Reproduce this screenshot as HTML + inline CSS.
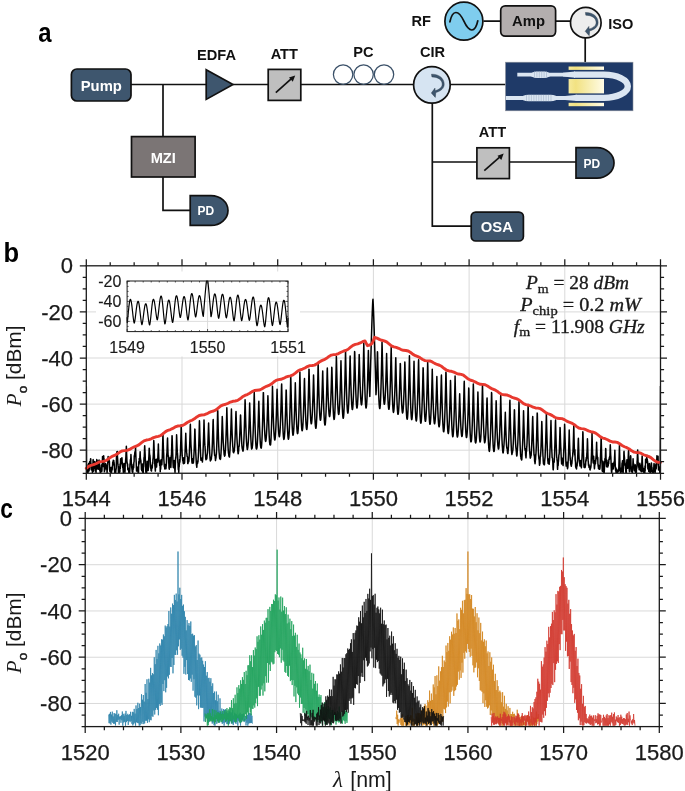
<!DOCTYPE html>
<html lang="en"><head><meta charset="utf-8"><title>Figure</title>
<style>html,body{margin:0;padding:0;background:#fff}svg{display:block}</style></head>
<body>
<svg width="685" height="791" viewBox="0 0 685 791">
<rect width="685" height="791" fill="#fff"/>
<text x="38.2" y="42.0" style="font-family:'Liberation Sans',sans-serif;font-weight:bold;font-size:27.2px" textLength="13.3" lengthAdjust="spacingAndGlyphs">a</text>
<text x="3.6" y="262" style="font-family:'Liberation Sans',sans-serif;font-weight:bold;font-size:28px" textLength="15.6" lengthAdjust="spacingAndGlyphs">b</text>
<text x="0.2" y="517.6" style="font-family:'Liberation Sans',sans-serif;font-weight:bold;font-size:28px" textLength="12.6" lengthAdjust="spacingAndGlyphs">c</text>
<g id="diagram" style="font-family:'Liberation Sans',sans-serif;font-weight:bold;font-size:14.8px">
<!-- wires -->
<path d="M131 84.5H206M233 84.5H268M301 84.5H413.5M450.3 84.5H505.5M163 84.5V136.6M163 177V210.3H190.2M432.3 103V226.2H471.2M432.3 162H476.8M509.5 162H576M483.5 21.1H500.7M555.6 21.1H570.5M585.2 38V62.2" fill="none" stroke="#111" stroke-width="1.7"/>
<!-- Pump -->
<rect x="71.4" y="69" width="59.6" height="32" rx="5.5" fill="#3e566e" stroke="#111" stroke-width="1.7"/>
<text x="101.3" y="90.5" text-anchor="middle" fill="#fff">Pump</text>
<!-- EDFA -->
<path d="M206.2 69.8L233 84.6L206.2 99.4Z" fill="#3e566e" stroke="#111" stroke-width="1.7" stroke-linejoin="miter"/>
<text x="216.5" y="59.8" text-anchor="middle" fill="#111" style="font-size:14.6px">EDFA</text>
<!-- ATT 1 -->
<rect x="268.2" y="69.4" width="32.6" height="31" fill="#bfbfbf" stroke="#111" stroke-width="1.7"/>
<path d="M275.8 92.6L292 78.2" stroke="#111" stroke-width="1.7" fill="none"/><path d="M295.2 75.4L289 77.6L292.8 81.7Z" fill="#111"/>
<text x="284.3" y="59.3" text-anchor="middle" fill="#111" style="font-size:14.6px">ATT</text>
<!-- PC -->
<g fill="none" stroke="#3a5068" stroke-width="1.25"><circle cx="343.1" cy="74.6" r="9.7"/><circle cx="363.6" cy="74.6" r="9.7"/><circle cx="384" cy="74.6" r="9.7"/></g>
<text x="363.4" y="57.3" text-anchor="middle" fill="#111" style="font-size:14.6px">PC</text>
<!-- CIR -->
<circle cx="431.9" cy="84.9" r="18.3" fill="#d6e4f2" stroke="#111" stroke-width="1.7"/>
<path id="sw1" transform="translate(431.9 84.9)" d="M-0.4 -10.7C7 -10.9 12.3 -6.6 12.3 -0.8C12.3 3.8 8.6 6.4 3.9 7.6L3.4 12.5L-0.6 8.1L3.1 3.2L3.2 5.8C7 4.8 10.3 2.8 10.3 -0.8C10.3 -5 6 -8 0 -8Z" fill="#3e566e" stroke="#22303f" stroke-width="0.4"/>
<text x="432.6" y="57.3" text-anchor="middle" fill="#111" style="font-size:14.6px">CIR</text>
<!-- MZI -->
<rect x="131.5" y="136.6" width="63.6" height="40.4" fill="#7b7575" stroke="#111" stroke-width="1.7"/>
<text x="163.2" y="162.8" text-anchor="middle" fill="#fff" style="font-size:14.6px">MZI</text>
<!-- PD 1 -->
<path d="M190.2 195.6H211A17 14.9 0 0 1 211 225.4H190.2Z" fill="#3e566e" stroke="#111" stroke-width="1.7"/>
<text x="205.8" y="215" text-anchor="middle" fill="#fff" style="font-size:12px">PD</text>
<!-- RF -->
<circle cx="463.9" cy="21.2" r="19" fill="#7fcdee" stroke="#111" stroke-width="1.7"/>
<path d="M449.9 21.8C452.5 9.5 458.5 9.5 463.9 21.2C469.3 33 475.2 33 477.8 20.8" fill="none" stroke="#111" stroke-width="1.7" stroke-linecap="round"/>
<text x="421.2" y="25.9" text-anchor="middle" fill="#111" style="font-size:14.6px">RF</text>
<!-- Amp -->
<rect x="500.7" y="5.9" width="54.9" height="30.2" rx="4.5" fill="#b3aeae" stroke="#111" stroke-width="1.7"/>
<text x="528.5" y="26.3" text-anchor="middle" fill="#111">Amp</text>
<!-- ISO -->
<circle cx="585.8" cy="22.65" r="15.3" fill="#ededed" stroke="#111" stroke-width="1.7"/>
<path transform="translate(585.8 23.2)" d="M-0.4 -10.7C7 -10.9 12.3 -6.6 12.3 -0.8C12.3 3.8 8.6 6.4 3.9 7.6L3.4 12.5L-0.6 8.1L3.1 3.2L3.2 5.8C7 4.8 10.3 2.8 10.3 -0.8C10.3 -5 6 -8 0 -8Z" fill="#3e566e" stroke="#22303f" stroke-width="0.4"/>
<text x="620.8" y="28.5" text-anchor="middle" fill="#111" style="font-size:14.6px">ISO</text>
<!-- chip -->
<defs><linearGradient id="yg" x1="0" x2="1" y1="0" y2="0"><stop offset="0" stop-color="#f6ea9c"/><stop offset="0.2" stop-color="#f2e282"/><stop offset="0.6" stop-color="#f8efb4"/><stop offset="1" stop-color="#fffbe6"/></linearGradient></defs>
<rect x="505.5" y="62.2" width="127.5" height="48.6" fill="#1f3a68" stroke="#8a8f99" stroke-width="0.6"/>
<g fill="url(#yg)"><rect x="568.6" y="66.5" width="35.4" height="3.4"/><rect x="568.6" y="79" width="35.4" height="14.4"/><rect x="568.6" y="102.8" width="35.4" height="3.4"/></g>
<g fill="none" stroke="#dbe6f2">
<path d="M574 74.6H604A23.8 11.65 0 0 1 604 97.9H575.5" stroke-width="6.4"/>
<path d="M517.3 74.7H575M505.8 98H577" stroke-width="3.8"/>
</g>
<g fill="#dbe6f2">
<path d="M563 72.8L575 71.4V77.8L563 76.6ZM565 96.1L577 94.7V101.1L565 99.9Z"/>
<path d="M528.5 74.7C531.5 73 533.5 71.4 536.5 71.4H544.5C547.5 71.4 549.5 73 552.5 74.7C549.5 76.4 547.5 78 544.5 78H536.5C533.5 78 531.5 76.4 528.5 74.7Z"/>
<path d="M518 98C522 96.6 524.5 94.7 528.5 94.7H550.5C554.5 94.7 557 96.6 561 98C557 99.4 554.5 101.3 550.5 101.3H528.5C524.5 101.3 522 99.4 518 98Z"/>
</g>
<path d="M534.5 71.6V77.8M536.9 71.6V77.8M539.3 71.6V77.8M541.7 71.6V77.8M544.1 71.6V77.8M546.5 71.6V77.8M526.5 94.9V101.1M529.0 94.9V101.1M531.4 94.9V101.1M533.9 94.9V101.1M536.3 94.9V101.1M538.8 94.9V101.1M541.2 94.9V101.1M543.6 94.9V101.1M546.1 94.9V101.1M548.5 94.9V101.1M551.0 94.9V101.1" stroke="#a9b9cf" stroke-width="0.7" fill="none"/>
<!-- ATT 2 -->
<rect x="476.9" y="147.8" width="32.5" height="30.8" fill="#bfbfbf" stroke="#111" stroke-width="1.7"/>
<path d="M484.3 170.6L500.5 156.4" stroke="#111" stroke-width="1.7" fill="none"/><path d="M503.7 153.6L497.5 155.8L501.3 159.9Z" fill="#111"/>
<text x="492.5" y="137.3" text-anchor="middle" fill="#111" style="font-size:14.6px">ATT</text>
<!-- PD 2 -->
<path d="M576 147.7H597A17 15.2 0 0 1 597 178.1H576Z" fill="#3e566e" stroke="#111" stroke-width="1.7"/>
<text x="591.8" y="167.6" text-anchor="middle" fill="#fff" style="font-size:12px">PD</text>
<!-- OSA -->
<rect x="471.2" y="212.1" width="52.2" height="28.9" rx="4.5" fill="#3e566e" stroke="#111" stroke-width="1.7"/>
<text x="496.8" y="231.7" text-anchor="middle" fill="#fff">OSA</text>
</g>

<line x1="182.00" x2="182.00" y1="265.8" y2="473.25" stroke="#d9d9d9" stroke-width="1"/>
<line x1="277.70" x2="277.70" y1="265.8" y2="473.25" stroke="#d9d9d9" stroke-width="1"/>
<line x1="373.40" x2="373.40" y1="265.8" y2="473.25" stroke="#d9d9d9" stroke-width="1"/>
<line x1="469.10" x2="469.10" y1="265.8" y2="473.25" stroke="#d9d9d9" stroke-width="1"/>
<line x1="564.80" x2="564.80" y1="265.8" y2="473.25" stroke="#d9d9d9" stroke-width="1"/>
<line x1="86.3" x2="660.5" y1="311.90" y2="311.90" stroke="#d9d9d9" stroke-width="1"/>
<line x1="86.3" x2="660.5" y1="358.00" y2="358.00" stroke="#d9d9d9" stroke-width="1"/>
<line x1="86.3" x2="660.5" y1="404.10" y2="404.10" stroke="#d9d9d9" stroke-width="1"/>
<line x1="86.3" x2="660.5" y1="450.20" y2="450.20" stroke="#d9d9d9" stroke-width="1"/>
<clipPath id="cb"><rect x="86.3" y="265.8" width="574.20" height="207.45"/></clipPath>
<g clip-path="url(#cb)"><polyline points="86.30,386.14 86.44,429.38 86.59,467.24 86.73,472.56 86.87,472.03 87.02,472.56 87.16,472.56 87.30,472.56 87.45,472.56 87.59,472.56 87.74,472.56 87.88,472.25 88.02,472.56 88.17,467.96 88.31,465.01 88.45,464.36 88.60,465.00 88.74,463.40 88.88,470.10 89.03,471.01 89.17,469.71 89.31,466.94 89.46,465.55 89.60,461.82 89.75,463.45 89.89,461.58 90.03,465.91 90.18,465.62 90.32,464.59 90.46,460.19 90.61,458.65 90.75,458.86 90.89,464.54 91.04,468.16 91.18,469.36 91.32,469.88 91.47,468.23 91.61,467.05 91.75,464.55 91.90,466.28 92.04,467.00 92.19,468.10 92.33,471.82 92.47,472.56 92.62,468.71 92.76,464.80 92.90,465.34 93.05,459.74 93.19,459.64 93.33,464.94 93.48,468.01 93.62,470.84 93.76,471.15 93.91,470.44 94.05,466.06 94.20,469.07 94.34,462.96 94.48,461.51 94.63,462.69 94.77,465.43 94.91,462.95 95.06,462.02 95.20,463.34 95.34,466.64 95.49,466.11 95.63,463.10 95.77,471.34 95.92,471.70 96.06,472.56 96.20,466.34 96.35,466.16 96.49,462.34 96.64,461.08 96.78,459.56 96.92,466.29 97.07,469.12 97.21,465.30 97.35,466.47 97.50,466.53 97.64,464.79 97.78,461.01 97.93,463.83 98.07,465.36 98.21,464.39 98.36,464.60 98.50,469.02 98.65,469.17 98.79,465.16 98.93,462.66 99.08,460.10 99.22,460.86 99.36,461.96 99.51,463.74 99.65,465.37 99.79,470.62 99.94,470.22 100.08,469.64 100.22,472.56 100.37,472.56 100.51,472.29 100.65,472.56 100.80,472.56 100.94,470.45 101.09,467.90 101.23,469.87 101.37,468.15 101.52,464.98 101.66,469.05 101.80,471.30 101.95,470.44 102.09,465.78 102.23,467.32 102.38,462.15 102.52,456.49 102.66,459.15 102.81,462.57 102.95,463.45 103.10,466.50 103.24,466.06 103.38,460.43 103.53,458.53 103.67,455.81 103.81,457.38 103.96,458.48 104.10,463.93 104.24,466.44 104.39,471.78 104.53,468.13 104.67,470.95 104.82,467.04 104.96,469.21 105.11,465.93 105.25,466.85 105.39,465.64 105.54,466.92 105.68,463.57 105.82,464.19 105.97,466.86 106.11,468.95 106.25,467.01 106.40,467.29 106.54,466.93 106.68,465.29 106.83,466.09 106.97,471.04 107.11,472.56 107.26,469.42 107.40,469.72 107.55,465.25 107.69,464.64 107.83,461.41 107.98,460.44 108.12,456.55 108.26,458.47 108.41,460.44 108.55,462.18 108.69,461.79 108.84,458.12 108.98,460.08 109.12,460.55 109.27,461.14 109.41,461.07 109.56,467.18 109.70,470.29 109.84,471.53 109.99,468.68 110.13,470.52 110.27,470.19 110.42,469.66 110.56,467.57 110.70,471.15 110.85,472.56 110.99,472.56 111.13,472.56 111.28,472.56 111.42,472.56 111.56,471.59 111.71,471.13 111.85,469.49 112.00,466.89 112.14,469.88 112.28,467.74 112.43,465.90 112.57,465.45 112.71,461.94 112.86,462.11 113.00,463.39 113.14,464.72 113.29,460.13 113.43,461.01 113.57,463.12 113.72,460.41 113.86,461.19 114.01,461.92 114.15,463.81 114.29,463.91 114.44,469.89 114.58,470.36 114.72,472.56 114.87,472.56 115.01,472.56 115.15,472.56 115.30,472.55 115.44,472.56 115.58,472.56 115.73,472.56 115.87,470.81 116.01,468.49 116.16,469.30 116.30,465.37 116.45,457.55 116.59,454.37 116.73,455.07 116.88,451.63 117.02,452.37 117.16,453.77 117.31,451.42 117.45,456.62 117.59,458.12 117.74,460.64 117.88,464.18 118.02,465.23 118.17,467.10 118.31,468.70 118.46,472.56 118.60,470.39 118.74,469.23 118.89,466.94 119.03,471.80 119.17,470.88 119.32,472.56 119.46,471.88 119.60,469.37 119.75,470.53 119.89,472.07 120.03,463.98 120.18,465.68 120.32,468.38 120.46,462.30 120.61,458.82 120.75,461.92 120.90,463.90 121.04,459.45 121.18,460.42 121.33,462.52 121.47,462.51 121.61,460.51 121.76,458.94 121.90,457.64 122.04,459.41 122.19,462.44 122.33,463.34 122.47,466.09 122.62,464.66 122.76,467.66 122.91,467.05 123.05,468.88 123.19,470.04 123.34,472.56 123.48,469.90 123.62,468.97 123.77,464.49 123.91,463.53 124.05,463.42 124.20,463.89 124.34,463.68 124.48,469.90 124.63,471.22 124.77,470.27 124.91,472.56 125.06,470.71 125.20,464.59 125.35,462.92 125.49,463.41 125.63,460.10 125.78,458.50 125.92,456.31 126.06,452.65 126.21,450.07 126.35,446.30 126.49,449.24 126.64,454.61 126.78,457.19 126.92,461.06 127.07,462.03 127.21,463.07 127.36,464.03 127.50,466.12 127.64,464.08 127.79,469.85 127.93,468.95 128.07,467.93 128.22,468.10 128.36,468.42 128.50,468.28 128.65,469.98 128.79,472.56 128.93,472.56 129.08,472.56 129.22,472.56 129.36,472.56 129.51,472.56 129.65,472.56 129.80,469.62 129.94,464.75 130.08,463.47 130.23,463.08 130.37,459.70 130.51,462.16 130.66,459.09 130.80,458.18 130.94,454.59 131.09,457.12 131.23,460.15 131.37,464.11 131.52,465.10 131.66,467.40 131.81,467.83 131.95,469.30 132.09,469.90 132.24,471.67 132.38,470.50 132.52,472.56 132.67,470.68 132.81,472.23 132.95,466.60 133.10,469.79 133.24,464.35 133.38,465.60 133.53,467.84 133.67,467.79 133.82,463.28 133.96,461.96 134.10,461.81 134.25,456.00 134.39,455.45 134.53,456.81 134.68,453.82 134.82,452.75 134.96,451.68 135.11,454.27 135.25,452.99 135.39,451.59 135.54,446.32 135.68,451.01 135.82,454.28 135.97,458.60 136.11,460.77 136.26,463.38 136.40,467.82 136.54,471.10 136.69,467.81 136.83,467.76 136.97,470.20 137.12,468.27 137.26,468.18 137.40,467.15 137.55,469.18 137.69,467.86 137.83,466.90 137.98,471.43 138.12,472.56 138.27,471.68 138.41,469.28 138.55,472.56 138.70,462.58 138.84,461.42 138.98,463.48 139.13,464.06 139.27,458.40 139.41,462.32 139.56,462.03 139.70,459.24 139.84,457.76 139.99,454.54 140.13,451.86 140.27,455.74 140.42,458.55 140.56,458.92 140.71,460.28 140.85,460.27 140.99,463.23 141.14,463.82 141.28,465.55 141.42,469.22 141.57,469.85 141.71,469.95 141.85,470.76 142.00,469.34 142.14,464.37 142.28,465.67 142.43,463.97 142.57,465.74 142.72,471.44 142.86,472.56 143.00,470.75 143.15,472.25 143.29,472.56 143.43,465.07 143.58,466.95 143.72,464.51 143.86,461.51 144.01,457.50 144.15,459.46 144.29,456.14 144.44,452.43 144.58,447.15 144.72,445.72 144.87,449.33 145.01,451.68 145.16,454.81 145.30,459.40 145.44,460.96 145.59,466.30 145.73,470.08 145.87,472.56 146.02,472.56 146.16,472.56 146.30,472.56 146.45,472.56 146.59,472.56 146.73,472.46 146.88,468.07 147.02,464.49 147.17,461.15 147.31,464.69 147.45,463.14 147.60,464.96 147.74,466.56 147.88,469.41 148.03,468.57 148.17,470.45 148.31,468.03 148.46,466.08 148.60,461.99 148.74,458.35 148.89,456.30 149.03,453.06 149.17,448.28 149.32,448.48 149.46,452.52 149.61,454.09 149.75,455.20 149.89,455.20 150.04,456.83 150.18,458.89 150.32,464.96 150.47,467.00 150.61,468.07 150.75,465.63 150.90,467.51 151.04,470.47 151.18,469.09 151.33,470.07 151.47,471.11 151.62,469.02 151.76,467.48 151.90,467.63 152.05,464.82 152.19,468.04 152.33,467.54 152.48,463.03 152.62,462.19 152.76,463.73 152.91,459.60 153.05,458.59 153.19,457.30 153.34,454.39 153.48,450.37 153.62,445.79 153.77,440.48 153.91,442.72 154.06,447.13 154.20,450.84 154.34,454.27 154.49,458.00 154.63,460.33 154.77,463.64 154.92,465.84 155.06,467.12 155.20,469.52 155.35,471.12 155.49,468.01 155.63,465.50 155.78,464.35 155.92,459.46 156.07,460.31 156.21,463.12 156.35,466.56 156.50,467.10 156.64,466.16 156.78,462.29 156.93,462.64 157.07,459.38 157.21,458.66 157.36,460.14 157.50,462.18 157.64,460.37 157.79,458.56 157.93,455.05 158.07,452.41 158.22,448.69 158.36,444.10 158.51,448.73 158.65,453.52 158.79,457.30 158.94,459.25 159.08,461.27 159.22,461.40 159.37,463.30 159.51,460.67 159.65,465.45 159.80,462.11 159.94,465.14 160.08,466.67 160.23,471.81 160.37,467.66 160.52,468.11 160.66,469.11 160.80,465.93 160.95,460.43 161.09,459.64 161.23,463.08 161.38,460.65 161.52,461.87 161.66,464.33 161.81,464.79 161.95,462.55 162.09,459.97 162.24,457.52 162.38,453.27 162.53,448.79 162.67,443.03 162.81,437.95 162.96,433.31 163.10,438.64 163.24,443.45 163.39,447.79 163.53,451.58 163.67,453.53 163.82,458.75 163.96,460.93 164.10,462.99 164.25,465.24 164.39,466.59 164.53,466.25 164.68,467.31 164.82,468.90 164.97,466.68 165.11,466.37 165.25,464.67 165.40,466.32 165.54,464.56 165.68,465.93 165.83,467.45 165.97,468.64 166.11,466.56 166.26,465.23 166.40,463.74 166.54,458.46 166.69,455.02 166.83,453.78 166.98,452.34 167.12,447.92 167.26,444.60 167.41,439.82 167.55,438.00 167.69,443.43 167.84,448.35 167.98,452.19 168.12,455.96 168.27,456.93 168.41,455.83 168.55,458.68 168.70,463.33 168.84,463.26 168.98,467.43 169.13,468.53 169.27,469.18 169.42,465.11 169.56,459.39 169.70,460.17 169.85,462.92 169.99,459.41 170.13,457.45 170.28,466.06 170.42,465.36 170.56,466.57 170.71,466.94 170.85,467.41 170.99,464.35 171.14,461.27 171.28,456.21 171.43,455.22 171.57,451.46 171.71,446.67 171.86,441.46 172.00,435.66 172.14,435.91 172.29,441.00 172.43,445.35 172.57,449.65 172.72,453.88 172.86,458.52 173.00,462.74 173.15,465.04 173.29,467.48 173.43,467.07 173.58,466.94 173.72,466.13 173.87,467.83 174.01,462.55 174.15,463.79 174.30,460.56 174.44,462.72 174.58,464.55 174.73,468.79 174.87,470.57 175.01,472.36 175.16,469.27 175.30,465.16 175.44,462.34 175.59,458.77 175.73,457.03 175.88,458.13 176.02,454.82 176.16,450.72 176.31,446.13 176.45,440.78 176.59,434.69 176.74,437.41 176.88,442.22 177.02,446.37 177.17,449.39 177.31,452.15 177.45,453.10 177.60,455.20 177.74,458.54 177.88,462.52 178.03,463.13 178.17,467.25 178.32,469.64 178.46,467.65 178.60,468.55 178.75,472.56 178.89,469.17 179.03,466.37 179.18,466.92 179.32,464.91 179.46,464.11 179.61,459.53 179.75,461.47 179.89,462.13 180.04,460.06 180.18,455.64 180.33,455.75 180.47,451.68 180.61,447.04 180.76,442.73 180.90,437.86 181.04,431.96 181.19,425.09 181.33,430.36 181.47,435.72 181.62,440.58 181.76,444.87 181.90,448.58 182.05,451.83 182.19,455.67 182.33,456.94 182.48,457.38 182.62,458.84 182.77,460.98 182.91,458.47 183.05,459.66 183.20,463.18 183.34,463.31 183.48,462.07 183.63,463.78 183.77,460.36 183.91,457.70 184.06,461.28 184.20,461.38 184.34,459.65 184.49,463.16 184.63,462.37 184.78,458.68 184.92,456.00 185.06,452.82 185.21,448.55 185.35,444.65 185.49,441.26 185.64,437.01 185.78,433.32 185.92,438.08 186.07,442.17 186.21,445.74 186.35,448.27 186.50,450.00 186.64,452.15 186.78,453.19 186.93,454.39 187.07,456.50 187.22,456.43 187.36,456.35 187.50,457.16 187.65,462.01 187.79,463.60 187.93,463.57 188.08,462.89 188.22,462.21 188.36,458.37 188.51,458.53 188.65,460.08 188.79,461.65 188.94,460.42 189.08,458.60 189.23,455.37 189.37,452.77 189.51,449.05 189.66,445.56 189.80,441.47 189.94,436.89 190.09,431.66 190.23,426.10 190.37,424.18 190.52,429.94 190.66,435.14 190.80,439.96 190.95,444.22 191.09,446.67 191.24,448.91 191.38,452.20 191.52,455.16 191.67,457.94 191.81,460.34 191.95,462.39 192.10,462.68 192.24,463.27 192.38,460.49 192.53,461.76 192.67,461.32 192.81,458.75 192.96,460.21 193.10,462.14 193.24,462.83 193.39,462.94 193.53,461.49 193.68,459.55 193.82,456.43 193.96,454.20 194.11,451.16 194.25,447.88 194.39,443.69 194.54,439.31 194.68,434.40 194.82,429.05 194.97,429.32 195.11,434.56 195.25,439.32 195.40,443.63 195.54,447.37 195.69,451.09 195.83,454.10 195.97,456.53 196.12,459.13 196.26,462.43 196.40,464.44 196.55,465.40 196.69,466.53 196.83,467.32 196.98,463.95 197.12,464.31 197.26,461.76 197.41,462.43 197.55,461.39 197.69,463.12 197.84,460.48 197.98,462.08 198.13,458.69 198.27,457.07 198.41,454.12 198.56,451.53 198.70,447.25 198.84,443.08 198.99,438.10 199.13,432.83 199.27,427.11 199.42,420.85 199.56,423.60 199.70,429.26 199.85,434.35 199.99,438.81 200.14,441.82 200.28,446.51 200.42,450.05 200.57,453.60 200.71,457.04 200.85,459.67 201.00,460.21 201.14,459.41 201.28,459.28 201.43,457.90 201.57,458.40 201.71,458.72 201.86,460.45 202.00,458.63 202.14,459.40 202.29,461.35 202.43,462.01 202.58,459.65 202.72,458.54 202.86,456.00 203.01,452.90 203.15,448.94 203.29,445.12 203.44,440.89 203.58,436.46 203.72,431.46 203.87,426.14 204.01,420.04 204.15,424.99 204.30,430.01 204.44,434.54 204.59,438.65 204.73,442.30 204.87,445.15 205.02,446.31 205.16,448.97 205.30,451.31 205.45,453.51 205.59,455.84 205.73,458.06 205.88,459.16 206.02,459.84 206.16,459.30 206.31,459.20 206.45,456.93 206.59,458.83 206.74,458.89 206.88,457.83 207.03,455.59 207.17,454.61 207.31,453.88 207.46,453.12 207.60,450.37 207.74,447.22 207.89,443.94 208.03,439.89 208.17,435.55 208.32,431.50 208.46,426.82 208.60,423.05 208.75,428.04 208.89,432.44 209.04,436.43 209.18,440.61 209.32,444.03 209.47,447.59 209.61,450.83 209.75,453.73 209.90,456.31 210.04,458.15 210.18,459.99 210.33,460.98 210.47,460.51 210.61,458.95 210.76,460.54 210.90,458.61 211.04,457.60 211.19,458.41 211.33,459.14 211.48,457.07 211.62,456.34 211.76,455.02 211.91,453.41 212.05,450.55 212.19,447.75 212.34,444.22 212.48,440.29 212.62,436.07 212.77,431.48 212.91,426.59 213.05,421.37 213.20,419.58 213.34,425.43 213.49,430.82 213.63,435.78 213.77,440.12 213.92,444.19 214.06,447.76 214.20,449.94 214.35,452.10 214.49,453.58 214.63,455.43 214.78,454.92 214.92,455.25 215.06,455.36 215.21,457.27 215.35,459.00 215.49,460.56 215.64,458.98 215.78,458.77 215.93,458.14 216.07,457.22 216.21,454.76 216.36,454.52 216.50,451.72 216.64,448.63 216.79,444.32 216.93,440.35 217.07,435.13 217.22,429.73 217.36,423.89 217.50,417.55 217.65,410.56 217.79,410.86 217.94,417.45 218.08,423.45 218.22,429.07 218.37,434.26 218.51,439.13 218.65,443.32 218.80,446.90 218.94,449.64 219.08,452.12 219.23,453.47 219.37,455.25 219.51,456.86 219.66,458.46 219.80,457.92 219.95,458.78 220.09,458.38 220.23,459.53 220.38,459.22 220.52,459.15 220.66,457.87 220.81,456.00 220.95,454.12 221.09,451.65 221.24,448.62 221.38,445.06 221.52,441.58 221.67,437.33 221.81,432.76 221.95,427.82 222.10,422.51 222.24,416.56 222.39,418.72 222.53,423.41 222.67,427.69 222.82,431.52 222.96,435.34 223.10,439.06 223.25,442.37 223.39,444.52 223.53,446.90 223.68,449.41 223.82,450.15 223.96,451.70 224.11,454.12 224.25,455.05 224.40,455.11 224.54,456.24 224.68,455.96 224.83,455.72 224.97,455.50 225.11,454.11 225.26,451.95 225.40,450.08 225.54,447.29 225.69,443.96 225.83,441.24 225.97,437.66 226.12,433.47 226.26,429.20 226.40,424.55 226.55,419.42 226.69,413.96 226.84,407.71 226.98,413.35 227.12,418.99 227.27,424.30 227.41,429.24 227.55,433.89 227.70,438.11 227.84,442.12 227.98,445.45 228.13,448.47 228.27,450.20 228.41,452.46 228.56,453.31 228.70,454.01 228.85,455.70 228.99,456.33 229.13,456.33 229.28,456.61 229.42,457.06 229.56,455.62 229.71,453.90 229.85,452.17 229.99,450.15 230.14,446.46 230.28,442.63 230.42,440.86 230.57,437.34 230.71,433.69 230.85,429.37 231.00,424.52 231.14,419.30 231.29,413.68 231.43,408.97 231.57,414.76 231.72,419.96 231.86,424.77 232.00,429.26 232.15,433.45 232.29,437.36 232.43,440.56 232.58,443.57 232.72,446.08 232.86,447.27 233.01,448.99 233.15,451.79 233.30,452.16 233.44,452.39 233.58,452.62 233.73,452.81 233.87,450.65 234.01,449.66 234.16,451.38 234.30,451.22 234.44,448.75 234.59,447.69 234.73,445.33 234.87,442.20 235.02,439.41 235.16,436.24 235.30,432.31 235.45,428.13 235.59,423.58 235.74,418.75 235.88,413.49 236.02,411.45 236.17,416.57 236.31,421.26 236.45,425.55 236.60,429.66 236.74,433.38 236.88,436.79 237.03,439.59 237.17,442.32 237.31,443.98 237.46,445.85 237.60,448.39 237.75,450.65 237.89,451.84 238.03,453.23 238.18,453.83 238.32,453.32 238.46,451.77 238.61,451.26 238.75,449.06 238.89,446.26 239.04,446.66 239.18,445.99 239.32,443.94 239.47,441.22 239.61,438.37 239.75,435.08 239.90,431.44 240.04,427.59 240.19,423.79 240.33,419.62 240.47,414.95 240.62,415.24 240.76,419.83 240.90,423.97 241.05,427.78 241.19,431.28 241.33,434.72 241.48,437.51 241.62,440.67 241.76,443.43 241.91,445.87 242.05,447.08 242.20,448.41 242.34,449.00 242.48,448.92 242.63,448.71 242.77,450.98 242.91,450.83 243.06,451.10 243.20,450.14 243.34,449.30 243.49,447.52 243.63,445.40 243.77,442.51 243.92,439.51 244.06,435.80 244.20,431.75 244.35,427.35 244.49,422.65 244.64,417.55 244.78,412.14 244.92,406.34 245.07,399.87 245.21,402.77 245.35,408.59 245.50,413.95 245.64,418.92 245.78,423.59 245.93,427.88 246.07,431.87 246.21,435.71 246.36,439.01 246.50,441.68 246.65,443.91 246.79,445.88 246.93,446.52 247.08,447.96 247.22,449.43 247.36,449.52 247.51,448.82 247.65,448.07 247.79,447.35 247.94,445.70 248.08,444.51 248.22,442.81 248.37,440.76 248.51,438.04 248.66,434.88 248.80,431.38 248.94,427.49 249.09,423.31 249.23,418.79 249.37,414.01 249.52,408.86 249.66,403.00 249.80,408.09 249.95,413.24 250.09,418.02 250.23,422.48 250.38,426.64 250.52,430.44 250.66,434.02 250.81,437.28 250.95,440.26 251.10,442.95 251.24,445.23 251.38,446.94 251.53,448.36 251.67,449.04 251.81,448.64 251.96,448.03 252.10,448.34 252.24,447.37 252.39,446.13 252.53,445.29 252.67,443.10 252.82,440.00 252.96,436.87 253.11,433.54 253.25,429.49 253.39,425.25 253.54,420.58 253.68,415.33 253.82,409.71 253.97,403.72 254.11,397.25 254.25,391.92 254.40,399.11 254.54,405.49 254.68,411.42 254.83,416.99 254.97,422.21 255.11,427.00 255.26,431.45 255.40,435.12 255.55,438.53 255.69,441.55 255.83,443.95 255.98,446.15 256.12,447.97 256.26,448.41 256.41,448.41 256.55,449.11 256.69,448.23 256.84,448.46 256.98,447.64 257.12,446.37 257.27,444.60 257.41,442.25 257.56,439.26 257.70,436.04 257.84,432.43 257.99,428.41 258.13,424.10 258.27,419.45 258.42,414.47 258.56,409.15 258.70,403.40 258.85,401.22 258.99,407.04 259.13,412.32 259.28,417.27 259.42,421.88 259.56,426.21 259.71,430.17 259.85,433.80 260.00,437.08 260.14,439.91 260.28,442.48 260.43,444.63 260.57,445.94 260.71,446.84 260.86,447.79 261.00,447.91 261.14,448.09 261.29,447.80 261.43,447.01 261.57,445.69 261.72,443.60 261.86,441.28 262.01,438.53 262.15,435.32 262.29,431.38 262.44,427.05 262.58,422.33 262.72,417.21 262.87,411.69 263.01,405.86 263.15,399.60 263.30,392.76 263.44,392.68 263.58,398.58 263.73,404.00 263.87,409.07 264.01,413.82 264.16,418.26 264.30,422.38 264.45,426.14 264.59,429.48 264.73,432.38 264.88,434.96 265.02,436.90 265.16,438.68 265.31,440.02 265.45,441.10 265.59,441.25 265.74,441.38 265.88,440.79 266.02,439.89 266.17,438.40 266.31,436.76 266.46,434.59 266.60,432.11 266.74,429.61 266.89,426.53 267.03,423.13 267.17,419.27 267.32,415.28 267.46,410.91 267.60,406.24 267.75,401.25 267.89,395.72 268.03,398.94 268.18,404.78 268.32,410.19 268.46,415.26 268.61,419.99 268.75,424.36 268.90,428.46 269.04,432.10 269.18,435.16 269.33,438.19 269.47,440.82 269.61,442.52 269.76,443.78 269.90,444.67 270.04,444.57 270.19,444.08 270.33,444.44 270.47,444.92 270.62,444.50 270.76,442.81 270.91,440.59 271.05,437.90 271.19,434.52 271.34,430.83 271.48,426.95 271.62,422.44 271.77,417.51 271.91,412.19 272.05,406.46 272.20,400.35 272.34,393.80 272.48,386.33 272.63,392.07 272.77,397.93 272.91,403.39 273.06,408.52 273.20,413.28 273.35,417.75 273.49,421.90 273.63,425.60 273.78,428.87 273.92,431.77 274.06,434.16 274.21,436.15 274.35,437.72 274.49,439.19 274.64,439.88 274.78,440.00 274.92,439.77 275.07,439.14 275.21,437.81 275.36,436.29 275.50,434.26 275.64,431.84 275.79,429.08 275.93,425.98 276.07,422.40 276.22,418.52 276.36,414.33 276.50,409.75 276.65,404.86 276.79,399.64 276.93,394.02 277.08,389.31 277.22,395.11 277.37,400.26 277.51,405.07 277.65,409.59 277.80,413.80 277.94,417.70 278.08,421.32 278.23,424.52 278.37,427.38 278.51,429.89 278.66,431.99 278.80,433.65 278.94,435.18 279.09,436.10 279.23,436.68 279.37,436.78 279.52,436.48 279.66,435.32 279.81,433.94 279.95,432.32 280.09,430.26 280.24,427.53 280.38,424.57 280.52,421.08 280.67,417.13 280.81,412.82 280.95,408.16 281.10,403.17 281.24,397.84 281.38,392.16 281.53,385.99 281.67,383.89 281.82,390.67 281.96,396.81 282.10,402.56 282.25,407.96 282.39,413.00 282.53,417.67 282.68,421.96 282.82,425.83 282.96,429.24 283.11,432.09 283.25,434.48 283.39,436.49 283.54,437.78 283.68,438.70 283.82,439.41 283.97,439.22 284.11,438.85 284.26,437.98 284.40,436.68 284.54,435.02 284.69,433.12 284.83,430.54 284.97,427.55 285.12,424.15 285.26,420.32 285.40,416.13 285.55,411.59 285.69,406.73 285.83,401.56 285.98,396.03 286.12,390.00 286.27,390.40 286.41,396.34 286.55,401.79 286.70,406.90 286.84,411.69 286.98,416.15 287.13,420.26 287.27,424.02 287.41,427.42 287.56,430.29 287.70,432.70 287.84,435.13 287.99,436.86 288.13,438.05 288.27,438.83 288.42,439.33 288.56,438.88 288.71,438.19 288.85,437.04 288.99,435.54 289.14,433.20 289.28,430.47 289.42,427.15 289.57,423.27 289.71,418.90 289.85,414.07 290.00,408.80 290.14,403.10 290.28,397.01 290.43,390.51 290.57,383.57 290.72,375.86 290.86,379.18 291.00,385.96 291.15,392.23 291.29,398.10 291.43,403.62 291.58,408.76 291.72,413.51 291.86,417.85 292.01,421.74 292.15,425.16 292.29,428.10 292.44,430.50 292.58,432.44 292.72,433.89 292.87,434.78 293.01,435.17 293.16,435.10 293.30,434.42 293.44,433.29 293.59,431.78 293.73,429.83 293.87,427.43 294.02,424.66 294.16,421.44 294.30,417.88 294.45,413.95 294.59,409.69 294.73,405.08 294.88,400.16 295.02,394.92 295.17,389.29 295.31,382.87 295.45,388.35 295.60,393.91 295.74,399.07 295.88,403.92 296.03,408.45 296.17,412.68 296.31,416.54 296.46,420.08 296.60,423.23 296.74,426.02 296.89,428.40 297.03,430.45 297.17,431.93 297.32,433.04 297.46,433.56 297.61,433.65 297.75,433.40 297.89,432.57 298.04,431.21 298.18,429.43 298.32,427.01 298.47,423.92 298.61,420.60 298.75,416.72 298.90,412.37 299.04,407.59 299.18,402.40 299.33,396.82 299.47,390.87 299.62,384.53 299.76,377.70 299.90,372.00 300.05,379.19 300.19,385.57 300.33,391.53 300.48,397.12 300.62,402.35 300.76,407.22 300.91,411.67 301.05,415.70 301.19,419.31 301.34,422.47 301.48,425.10 301.62,427.37 301.77,429.02 301.91,430.03 302.06,430.56 302.20,430.75 302.34,430.35 302.49,429.64 302.63,428.52 302.77,426.85 302.92,424.63 303.06,421.99 303.20,418.92 303.35,415.42 303.49,411.54 303.63,407.28 303.78,402.69 303.92,397.77 304.07,392.52 304.21,386.91 304.35,380.84 304.50,378.56 304.64,384.70 304.78,390.28 304.93,395.49 305.07,400.38 305.21,404.96 305.36,409.21 305.50,413.10 305.64,416.61 305.79,419.75 305.93,422.43 306.08,424.61 306.22,426.57 306.36,427.99 306.51,428.81 306.65,429.38 306.79,429.48 306.94,428.89 307.08,427.88 307.22,426.29 307.37,424.10 307.51,421.38 307.65,418.17 307.80,414.42 307.94,410.27 308.08,405.67 308.23,400.64 308.37,395.20 308.52,389.37 308.66,383.16 308.80,376.52 308.95,369.27 309.09,369.38 309.23,375.93 309.38,381.95 309.52,387.59 309.66,392.88 309.81,397.82 309.95,402.39 310.09,406.58 310.24,410.36 310.38,413.70 310.53,416.58 310.67,419.05 310.81,420.98 310.96,422.41 311.10,423.39 311.24,423.85 311.39,423.79 311.53,423.32 311.67,422.38 311.82,420.98 311.96,419.17 312.10,416.97 312.25,414.35 312.39,411.35 312.53,407.98 312.68,404.27 312.82,400.21 312.97,395.86 313.11,391.20 313.25,386.23 313.40,380.92 313.54,375.03 313.68,378.31 313.83,384.35 313.97,389.94 314.11,395.18 314.26,400.09 314.40,404.66 314.54,408.90 314.69,412.75 314.83,416.21 314.98,419.28 315.12,421.93 315.26,424.14 315.41,425.87 315.55,427.17 315.69,428.00 315.84,428.30 315.98,428.02 316.12,427.27 316.27,425.87 316.41,423.99 316.55,421.56 316.70,418.57 316.84,415.05 316.98,411.04 317.13,406.54 317.27,401.59 317.42,396.22 317.56,390.43 317.70,384.26 317.85,377.68 317.99,370.62 318.13,362.58 318.28,368.68 318.42,374.95 318.56,380.78 318.71,386.26 318.85,391.38 318.99,396.15 319.14,400.56 319.28,404.56 319.43,408.15 319.57,411.33 319.71,414.04 319.86,416.26 320.00,418.03 320.14,419.27 320.29,420.00 320.43,420.19 320.57,420.00 320.72,419.32 320.86,418.20 321.00,416.67 321.15,414.72 321.29,412.36 321.43,409.61 321.58,406.49 321.72,403.02 321.87,399.21 322.01,395.07 322.15,390.62 322.30,385.89 322.44,380.83 322.58,375.39 322.73,371.01 322.87,377.59 323.01,383.44 323.16,388.90 323.30,394.02 323.44,398.81 323.59,403.26 323.73,407.35 323.88,411.07 324.02,414.39 324.16,417.29 324.31,419.77 324.45,421.79 324.59,423.31 324.74,424.41 324.88,424.97 325.02,425.08 325.17,424.76 325.31,423.91 325.45,422.51 325.60,420.63 325.74,418.22 325.88,415.33 326.03,411.98 326.17,408.19 326.32,403.98 326.46,399.39 326.60,394.42 326.75,389.10 326.89,383.42 327.03,377.37 327.18,370.80 327.32,368.01 327.46,373.86 327.61,379.17 327.75,384.13 327.89,388.79 328.04,393.15 328.18,397.19 328.33,400.90 328.47,404.26 328.61,407.25 328.76,409.86 328.90,412.06 329.04,413.84 329.19,415.20 329.33,416.12 329.47,416.60 329.62,416.63 329.76,416.21 329.90,415.32 330.05,413.97 330.19,412.19 330.33,409.97 330.48,407.32 330.62,404.29 330.77,400.87 330.91,397.08 331.05,392.95 331.20,388.50 331.34,383.73 331.48,378.65 331.63,373.23 331.77,367.30 331.91,367.91 332.06,374.11 332.20,379.79 332.34,385.12 332.49,390.11 332.63,394.78 332.78,399.11 332.92,403.06 333.06,406.63 333.21,409.78 333.35,412.51 333.49,414.80 333.64,416.66 333.78,418.07 333.92,418.98 334.07,419.41 334.21,419.32 334.35,418.66 334.50,417.41 334.64,415.65 334.79,413.34 334.93,410.49 335.07,407.12 335.22,403.27 335.36,398.94 335.50,394.15 335.65,388.95 335.79,383.35 335.93,377.35 336.08,370.97 336.22,364.14 336.36,356.57 336.51,359.79 336.65,366.41 336.79,372.53 336.94,378.27 337.08,383.66 337.23,388.68 337.37,393.32 337.51,397.56 337.66,401.37 337.80,404.74 337.94,407.65 338.09,410.05 338.23,411.96 338.37,413.35 338.52,414.23 338.66,414.57 338.80,414.43 338.95,413.81 339.09,412.70 339.24,411.11 339.38,409.10 339.52,406.64 339.67,403.73 339.81,400.44 339.95,396.74 340.10,392.68 340.24,388.27 340.38,383.53 340.53,378.47 340.67,373.07 340.81,367.29 340.96,360.69 341.10,366.90 341.24,373.15 341.39,378.96 341.53,384.41 341.68,389.52 341.82,394.27 341.96,398.66 342.11,402.66 342.25,406.24 342.39,409.39 342.54,412.10 342.68,414.32 342.82,416.06 342.97,417.30 343.11,418.03 343.25,418.26 343.40,417.94 343.54,417.01 343.69,415.48 343.83,413.37 343.97,410.68 344.12,407.43 344.26,403.63 344.40,399.32 344.55,394.51 344.69,389.24 344.83,383.53 344.98,377.40 345.12,370.87 345.26,363.90 345.41,356.40 345.55,350.10 345.69,357.74 345.84,364.53 345.98,370.87 346.13,376.81 346.27,382.38 346.41,387.55 346.56,392.32 346.70,396.64 346.84,400.52 346.99,403.90 347.13,406.77 347.27,409.14 347.42,410.96 347.56,412.22 347.70,412.91 347.85,413.09 347.99,412.69 348.14,411.80 348.28,410.39 348.42,408.48 348.57,406.06 348.71,403.17 348.85,399.82 349.00,396.04 349.14,391.84 349.28,387.25 349.43,382.28 349.57,376.96 349.71,371.28 349.86,365.23 350.00,358.68 350.14,356.12 350.29,362.54 350.43,368.36 350.58,373.81 350.72,378.92 350.86,383.70 351.01,388.14 351.15,392.22 351.29,395.91 351.44,399.19 351.58,402.05 351.72,404.45 351.87,406.42 352.01,407.91 352.15,408.93 352.30,409.46 352.44,409.49 352.59,408.98 352.73,407.93 352.87,406.35 353.02,404.25 353.16,401.63 353.30,398.54 353.45,394.98 353.59,390.95 353.73,386.52 353.88,381.67 354.02,376.44 354.16,370.84 354.31,364.87 354.45,358.50 354.59,351.54 354.74,351.93 354.88,358.68 355.03,364.87 355.17,370.67 355.31,376.12 355.46,381.20 355.60,385.91 355.74,390.23 355.89,394.12 356.03,397.57 356.17,400.54 356.32,403.06 356.46,405.08 356.60,406.60 356.75,407.59 356.89,408.05 357.04,407.99 357.18,407.44 357.32,406.40 357.47,404.89 357.61,402.91 357.75,400.49 357.90,397.62 358.04,394.33 358.18,390.65 358.33,386.58 358.47,382.15 358.61,377.38 358.76,372.29 358.90,366.86 359.04,361.06 359.19,354.62 359.33,357.45 359.48,363.17 359.62,368.47 359.76,373.44 359.91,378.10 360.05,382.44 360.19,386.46 360.34,390.13 360.48,393.44 360.62,396.36 360.77,398.87 360.91,400.97 361.05,402.63 361.20,403.84 361.34,404.61 361.49,404.91 361.63,404.72 361.77,403.99 361.92,402.72 362.06,400.91 362.20,398.59 362.35,395.77 362.49,392.45 362.63,388.67 362.78,384.44 362.92,379.78 363.06,374.73 363.21,369.31 363.35,363.51 363.50,357.34 363.64,350.71 363.78,343.16 363.93,350.15 364.07,357.19 364.21,363.73 364.36,369.86 364.50,375.62 364.64,380.98 364.79,385.92 364.93,390.42 365.07,394.46 365.22,398.01 365.36,401.05 365.50,403.56 365.65,405.53 365.79,406.92 365.94,407.77 366.08,408.04 366.22,407.72 366.37,406.95 366.51,405.68 366.65,403.89 366.80,401.61 366.94,398.86 367.08,395.64 367.23,391.99 367.37,387.92 367.51,383.47 367.66,378.64 367.80,373.46 367.95,367.93 368.09,362.04 368.23,355.70 368.38,350.39 368.52,356.93 368.66,362.74 368.81,368.17 368.95,373.26 369.09,378.03 369.24,382.46 369.38,386.54 369.52,390.25 369.67,393.56 369.81,396.46 369.95,390.96 370.10,385.42 370.24,379.95 370.39,374.55 370.53,369.22 370.67,363.98 370.82,358.82 370.96,353.74 371.10,348.76 371.25,343.88 371.39,339.10 371.53,334.43 371.68,329.88 371.82,325.45 371.96,321.18 372.11,317.06 372.25,313.11 372.40,309.38 372.54,305.89 372.68,302.72 372.83,300.02 372.97,299.29 373.11,301.76 373.26,304.80 373.40,308.19 373.54,311.84 373.69,315.72 373.83,319.78 373.97,324.01 374.12,328.39 374.26,332.90 374.40,337.53 374.55,342.27 374.69,347.12 374.84,352.07 374.98,357.12 375.12,362.25 375.27,367.47 375.41,372.76 375.55,378.14 375.70,383.59 375.84,389.10 375.98,394.69 376.13,392.77 376.27,389.65 376.41,386.15 376.56,382.27 376.70,378.04 376.85,373.47 376.99,368.58 377.13,363.38 377.28,357.82 377.42,351.74 377.56,352.62 377.71,359.35 377.85,365.52 377.99,371.31 378.14,376.74 378.28,381.81 378.42,386.51 378.57,390.81 378.71,394.70 378.85,398.14 379.00,401.13 379.14,403.63 379.29,405.64 379.43,407.14 379.57,408.13 379.72,408.58 379.86,408.50 380.00,407.80 380.15,406.51 380.29,404.63 380.43,402.18 380.58,399.17 380.72,395.62 380.86,391.55 381.01,386.97 381.15,381.93 381.30,376.44 381.44,370.52 381.58,364.20 381.73,357.47 381.87,350.26 382.01,342.28 382.16,345.75 382.30,352.82 382.44,359.35 382.59,365.48 382.73,371.23 382.87,376.59 383.02,381.54 383.16,386.07 383.30,390.14 383.45,393.75 383.59,396.85 383.74,399.44 383.88,401.48 384.02,402.99 384.17,403.93 384.31,404.31 384.45,404.16 384.60,403.56 384.74,402.50 384.88,401.02 385.03,399.11 385.17,396.79 385.31,394.06 385.46,390.95 385.60,387.47 385.75,383.65 385.89,379.49 386.03,375.03 386.18,370.26 386.32,365.19 386.46,359.74 386.61,353.53 386.75,359.56 386.89,365.61 387.04,371.23 387.18,376.51 387.32,381.45 387.47,386.05 387.61,390.30 387.75,394.17 387.90,397.63 388.04,400.68 388.19,403.28 388.33,405.44 388.47,407.14 388.62,408.36 388.76,409.08 388.90,409.31 389.05,409.01 389.19,408.18 389.33,406.77 389.48,404.85 389.62,402.39 389.76,399.43 389.91,395.98 390.05,392.06 390.20,387.70 390.34,382.91 390.48,377.72 390.63,372.16 390.77,366.22 390.91,359.89 391.06,353.08 391.20,347.52 391.34,355.39 391.49,362.39 391.63,368.91 391.77,375.04 391.92,380.77 392.06,386.10 392.21,391.01 392.35,395.47 392.49,399.46 392.64,402.95 392.78,405.92 392.92,408.35 393.07,410.21 393.21,411.48 393.35,412.20 393.50,412.34 393.64,411.99 393.78,411.12 393.93,409.79 394.07,407.95 394.21,405.64 394.36,402.85 394.50,399.63 394.65,395.98 394.79,391.93 394.93,387.50 395.08,382.71 395.22,377.58 395.36,372.11 395.51,366.27 395.65,359.95 395.79,357.74 395.94,364.56 396.08,370.74 396.22,376.52 396.37,381.94 396.51,387.02 396.66,391.73 396.80,396.05 396.94,399.97 397.09,403.45 397.23,406.48 397.37,409.03 397.52,411.06 397.66,412.66 397.80,413.76 397.95,414.30 398.09,414.31 398.23,413.88 398.38,412.94 398.52,411.57 398.66,409.76 398.81,407.49 398.95,404.79 399.10,401.67 399.24,398.14 399.38,394.24 399.53,389.99 399.67,385.40 399.81,380.49 399.96,375.25 400.10,369.66 400.24,363.55 400.39,363.88 400.53,369.79 400.67,375.20 400.82,380.28 400.96,385.04 401.11,389.49 401.25,393.61 401.39,397.39 401.54,400.79 401.68,403.81 401.82,406.41 401.97,408.61 402.11,410.35 402.25,411.67 402.40,412.52 402.54,412.95 402.68,412.88 402.83,412.36 402.97,411.39 403.11,409.96 403.26,408.07 403.40,405.75 403.55,403.01 403.69,399.88 403.83,396.35 403.98,392.47 404.12,388.25 404.26,383.71 404.41,378.84 404.55,373.67 404.69,368.12 404.84,361.98 404.98,365.57 405.12,372.07 405.27,378.08 405.41,383.71 405.56,389.00 405.70,393.93 405.84,398.49 405.99,402.65 406.13,406.40 406.27,409.71 406.42,412.55 406.56,414.90 406.70,416.77 406.85,418.12 406.99,419.00 407.13,419.32 407.28,419.14 407.42,418.42 407.56,417.13 407.71,415.28 407.85,412.90 408.00,409.99 408.14,406.57 408.28,402.67 408.43,398.31 408.57,393.51 408.71,388.31 408.86,382.72 409.00,376.74 409.14,370.38 409.29,363.55 409.43,355.77 409.57,362.63 409.72,369.57 409.86,376.02 410.01,382.08 410.15,387.75 410.29,393.04 410.44,397.91 410.58,402.35 410.72,406.34 410.87,409.84 411.01,412.84 411.15,415.30 411.30,417.23 411.44,418.61 411.58,419.34 411.73,419.63 411.87,419.39 412.01,418.62 412.16,417.31 412.30,415.52 412.45,413.19 412.59,410.38 412.73,407.10 412.88,403.39 413.02,399.25 413.16,394.72 413.31,389.81 413.45,384.53 413.59,378.91 413.74,372.91 413.88,366.45 414.02,361.15 414.17,368.42 414.31,374.89 414.46,380.91 414.60,386.57 414.74,391.87 414.89,396.80 415.03,401.33 415.17,405.44 415.32,409.11 415.46,412.30 415.60,415.04 415.75,417.24 415.89,418.92 416.03,420.11 416.18,420.83 416.32,420.97 416.46,420.63 416.61,419.67 416.75,418.15 416.90,416.10 417.04,413.49 417.18,410.37 417.33,406.76 417.47,402.67 417.61,398.13 417.76,393.17 417.90,387.80 418.04,382.05 418.19,375.92 418.33,369.38 418.47,362.29 418.62,359.81 418.76,367.44 418.91,374.36 419.05,380.83 419.19,386.91 419.34,392.59 419.48,397.86 419.62,402.70 419.77,407.09 419.91,410.98 420.05,414.37 420.20,417.24 420.34,419.58 420.48,421.30 420.63,422.52 420.77,423.11 420.92,423.14 421.06,422.68 421.20,421.63 421.35,420.08 421.49,418.18 421.63,415.70 421.78,412.73 421.92,409.35 422.06,405.51 422.21,401.26 422.35,396.62 422.49,391.61 422.64,386.25 422.78,380.54 422.92,374.45 423.07,367.78 423.21,368.13 423.36,374.54 423.50,380.43 423.64,385.95 423.79,391.13 423.93,395.96 424.07,400.44 424.22,404.53 424.36,408.23 424.50,411.51 424.65,414.35 424.79,416.73 424.93,418.64 425.08,420.04 425.22,420.92 425.37,421.37 425.51,421.36 425.65,420.76 425.80,419.63 425.94,417.96 426.08,415.74 426.23,413.00 426.37,409.85 426.51,406.20 426.66,402.12 426.80,397.60 426.94,392.69 427.09,387.39 427.23,381.73 427.37,375.70 427.52,369.24 427.66,362.09 427.81,365.83 427.95,372.90 428.09,379.44 428.24,385.57 428.38,391.31 428.52,396.68 428.67,401.63 428.81,406.15 428.95,410.24 429.10,413.83 429.24,416.90 429.38,419.47 429.53,421.51 429.67,422.98 429.82,423.93 429.96,424.35 430.10,424.18 430.25,423.55 430.39,422.42 430.53,420.79 430.68,418.71 430.82,416.20 430.96,413.24 431.11,409.89 431.25,406.14 431.39,402.00 431.54,397.51 431.68,392.67 431.82,387.51 431.97,382.00 432.11,376.10 432.26,369.37 432.40,375.21 432.54,381.12 432.69,386.62 432.83,391.77 432.97,396.60 433.12,401.09 433.26,405.23 433.40,409.00 433.55,412.37 433.69,415.36 433.83,417.95 433.98,420.07 434.12,421.72 434.27,422.90 434.41,423.59 434.55,423.80 434.70,423.52 434.84,422.85 434.98,421.69 435.13,420.27 435.27,418.45 435.41,416.24 435.56,413.60 435.70,410.62 435.84,407.28 435.99,403.62 436.13,399.65 436.27,395.39 436.42,390.84 436.56,385.99 436.71,380.77 436.85,376.53 436.99,382.68 437.14,388.14 437.28,393.23 437.42,398.02 437.57,402.49 437.71,406.64 437.85,410.47 438.00,413.92 438.14,416.99 438.28,419.67 438.43,421.91 438.57,423.74 438.72,425.20 438.86,426.12 439.00,426.72 439.15,426.76 439.29,426.20 439.43,425.54 439.58,424.51 439.72,422.75 439.86,420.64 440.01,418.01 440.15,414.94 440.29,411.45 440.44,407.59 440.58,403.35 440.72,398.79 440.87,393.88 441.01,388.65 441.16,383.07 441.30,377.02 441.44,375.05 441.59,381.91 441.73,388.13 441.87,393.95 442.02,399.42 442.16,404.52 442.30,409.25 442.45,413.58 442.59,417.47 442.73,420.88 442.88,423.91 443.02,426.33 443.17,428.36 443.31,430.14 443.45,431.31 443.60,431.84 443.74,431.86 443.88,431.39 444.03,430.28 444.17,428.74 444.31,426.60 444.46,423.96 444.60,420.77 444.74,417.10 444.89,412.96 445.03,408.37 445.17,403.38 445.32,397.98 445.46,392.21 445.61,386.06 445.75,379.48 445.89,372.30 446.04,372.92 446.18,380.23 446.32,386.93 446.47,393.22 446.61,399.11 446.75,404.62 446.90,409.70 447.04,414.37 447.18,418.57 447.33,422.28 447.47,425.39 447.62,428.11 447.76,430.30 447.90,431.81 448.05,432.57 448.19,433.44 448.33,433.46 448.48,432.91 448.62,431.90 448.76,430.48 448.91,428.45 449.05,426.06 449.19,423.20 449.34,419.98 449.48,416.28 449.63,412.25 449.77,407.85 449.91,403.10 450.06,398.02 450.20,392.61 450.34,386.81 450.49,380.39 450.63,383.82 450.77,390.25 450.92,396.20 451.06,401.77 451.20,406.99 451.35,411.84 451.49,416.36 451.63,420.40 451.78,423.98 451.92,427.16 452.07,430.01 452.21,431.99 452.35,434.05 452.50,435.51 452.64,436.27 452.78,436.73 452.93,436.63 453.07,435.87 453.21,434.61 453.36,432.92 453.50,430.62 453.64,427.81 453.79,424.60 453.93,420.93 454.08,416.76 454.22,412.19 454.36,407.23 454.51,401.86 454.65,396.13 454.79,390.03 454.94,383.48 455.08,376.01 455.22,382.67 455.37,389.39 455.51,395.64 455.65,401.50 455.80,406.98 455.94,412.09 456.08,416.79 456.23,421.10 456.37,424.90 456.52,428.22 456.66,430.94 456.80,433.19 456.95,434.83 457.09,436.18 457.23,436.50 457.38,437.05 457.52,436.83 457.66,436.38 457.81,435.60 457.95,434.51 458.09,432.68 458.24,430.74 458.38,428.37 458.53,425.60 458.67,422.52 458.81,419.14 458.96,415.44 459.10,411.48 459.24,407.25 459.39,402.74 459.53,397.88 459.67,393.85 459.82,399.08 459.96,403.72 460.10,408.04 460.25,412.13 460.39,415.91 460.53,419.45 460.68,422.69 460.82,425.67 460.97,428.15 461.11,430.52 461.25,432.37 461.40,433.90 461.54,435.08 461.68,436.03 461.83,436.52 461.97,436.57 462.11,436.22 462.26,435.42 462.40,434.06 462.54,431.93 462.69,429.66 462.83,426.99 462.98,423.78 463.12,420.14 463.26,416.11 463.41,411.65 463.55,406.78 463.69,401.56 463.84,395.99 463.98,390.05 464.12,383.60 464.27,381.30 464.41,388.11 464.55,394.28 464.70,400.05 464.84,405.47 464.98,410.52 465.13,415.20 465.27,419.51 465.42,423.35 465.56,426.79 465.70,429.83 465.85,432.34 465.99,434.38 466.13,435.98 466.28,436.98 466.42,437.55 466.56,437.59 466.71,437.07 466.85,436.22 466.99,434.97 467.14,433.19 467.28,431.02 467.43,428.38 467.57,425.32 467.71,421.89 467.86,418.08 468.00,413.93 468.14,409.45 468.29,404.65 468.43,399.52 468.57,394.05 468.72,388.06 468.86,388.85 469.00,395.36 469.15,401.34 469.29,406.93 469.43,412.17 469.58,417.06 469.72,421.59 469.87,425.74 470.01,429.46 470.15,432.79 470.30,435.62 470.44,438.02 470.58,439.61 470.73,441.03 470.87,441.84 471.01,441.93 471.16,441.42 471.30,441.41 471.44,440.47 471.59,438.81 471.73,436.65 471.88,434.28 472.02,431.09 472.16,427.51 472.31,423.52 472.45,419.12 472.59,414.30 472.74,409.08 472.88,403.47 473.02,397.49 473.17,391.08 473.31,383.96 473.45,387.56 473.60,394.43 473.74,400.78 473.88,406.74 474.03,412.31 474.17,417.50 474.32,422.30 474.46,426.71 474.60,430.63 474.75,434.11 474.89,436.95 475.03,439.26 475.18,441.09 475.32,442.13 475.46,442.68 475.61,442.76 475.75,442.94 475.89,442.33 476.04,441.63 476.18,440.57 476.33,438.75 476.47,436.40 476.61,433.52 476.76,430.39 476.90,426.77 477.04,423.01 477.19,418.78 477.33,414.22 477.47,409.30 477.62,404.06 477.76,398.42 477.90,392.01 478.05,397.44 478.19,402.96 478.34,408.09 478.48,412.90 478.62,417.38 478.77,421.56 478.91,425.35 479.05,428.86 479.20,432.02 479.34,434.74 479.48,437.16 479.63,439.13 479.77,440.71 479.91,441.64 480.06,442.10 480.20,441.95 480.34,441.57 480.49,440.61 480.63,439.58 480.78,437.93 480.92,435.84 481.06,433.19 481.21,430.05 481.35,426.36 481.49,422.26 481.64,417.74 481.78,412.84 481.92,407.54 482.07,401.92 482.21,395.92 482.35,389.45 482.50,384.12 482.64,391.32 482.79,397.72 482.93,403.68 483.07,409.28 483.22,414.51 483.36,419.33 483.50,423.76 483.65,427.74 483.79,431.32 483.93,434.24 484.08,437.12 484.22,439.21 484.36,440.98 484.51,442.25 484.65,442.76 484.79,442.59 484.94,442.02 485.08,441.51 485.23,440.41 485.37,439.30 485.51,437.42 485.66,435.20 485.80,432.37 485.94,429.40 486.09,426.02 486.23,422.38 486.37,418.43 486.52,414.19 486.66,409.62 486.80,404.73 486.95,399.44 487.09,397.90 487.24,404.39 487.38,410.27 487.52,415.78 487.67,420.93 487.81,425.74 487.95,430.20 488.10,434.29 488.24,437.89 488.38,440.95 488.53,443.88 488.67,445.60 488.81,447.91 488.96,449.51 489.10,450.72 489.24,451.07 489.39,451.34 489.53,450.32 489.68,449.25 489.82,447.40 489.96,445.25 490.11,442.31 490.25,439.81 490.39,436.59 490.54,432.63 490.68,428.22 490.82,423.36 490.97,418.05 491.11,412.33 491.25,406.23 491.40,399.73 491.54,392.60 491.69,393.25 491.83,400.53 491.97,407.22 492.12,413.47 492.26,419.29 492.40,424.72 492.55,429.65 492.69,434.35 492.83,438.40 492.98,441.76 493.12,444.63 493.26,447.27 493.41,448.56 493.55,449.44 493.69,450.88 493.84,451.50 493.98,451.53 494.13,451.41 494.27,450.68 494.41,448.82 494.56,446.96 494.70,445.18 494.84,442.19 494.99,439.53 495.13,436.01 495.27,432.15 495.42,427.77 495.56,423.26 495.70,418.27 495.85,412.96 495.99,407.22 496.14,400.84 496.28,403.61 496.42,409.26 496.57,414.49 496.71,419.36 496.85,423.95 497.00,428.16 497.14,431.99 497.28,435.39 497.43,438.48 497.57,441.04 497.71,443.31 497.86,445.26 498.00,446.41 498.14,447.44 498.29,448.51 498.43,449.04 498.58,448.94 498.72,448.46 498.86,447.36 499.01,445.54 499.15,443.56 499.29,441.27 499.44,438.32 499.58,435.15 499.72,431.60 499.87,427.63 500.01,423.16 500.15,418.37 500.30,413.19 500.44,407.65 500.59,401.69 500.73,394.90 500.87,401.31 501.02,407.74 501.16,413.71 501.30,419.29 501.45,424.49 501.59,429.12 501.73,433.27 501.88,437.34 502.02,440.58 502.16,443.32 502.31,445.60 502.45,447.59 502.59,449.53 502.74,451.61 502.88,452.51 503.03,452.80 503.17,452.91 503.31,452.18 503.46,450.68 503.60,449.19 503.74,447.60 503.89,446.02 504.03,444.04 504.17,441.41 504.32,439.06 504.46,436.00 504.60,432.41 504.75,428.67 504.89,424.78 505.04,420.47 505.18,415.90 505.32,412.17 505.47,417.55 505.61,422.34 505.75,426.82 505.90,431.00 506.04,434.82 506.18,438.44 506.33,441.72 506.47,444.36 506.61,446.24 506.76,447.53 506.90,448.32 507.05,447.99 507.19,448.05 507.33,450.67 507.48,452.58 507.62,452.93 507.76,453.59 507.91,453.54 508.05,451.95 508.19,450.03 508.34,448.53 508.48,445.84 508.62,442.72 508.77,439.31 508.91,435.30 509.05,430.83 509.20,425.91 509.34,420.69 509.49,415.05 509.63,409.07 509.77,402.56 509.92,400.21 510.06,407.01 510.20,413.20 510.35,418.94 510.49,424.32 510.63,429.34 510.78,434.03 510.92,438.18 511.06,442.05 511.21,445.46 511.35,448.54 511.50,450.79 511.64,452.56 511.78,453.84 511.93,454.49 512.07,453.65 512.21,453.01 512.36,452.82 512.50,452.16 512.64,450.95 512.79,450.80 512.93,449.40 513.07,446.63 513.22,444.39 513.36,441.50 513.50,437.80 513.65,433.93 513.79,429.87 513.94,425.28 514.08,420.48 514.22,415.34 514.37,409.68 514.51,410.14 514.65,415.86 514.80,421.04 514.94,425.88 515.08,430.38 515.23,434.57 515.37,438.32 515.51,441.59 515.66,444.50 515.80,446.76 515.95,448.29 516.09,448.94 516.23,451.28 516.38,451.99 516.52,454.76 516.66,455.37 516.81,455.94 516.95,455.43 517.09,454.36 517.24,451.56 517.38,449.53 517.52,447.43 517.67,445.13 517.81,442.62 517.95,439.01 518.10,435.16 518.24,430.56 518.39,425.58 518.53,420.28 518.67,414.65 518.82,408.58 518.96,401.86 519.10,405.79 519.25,412.91 519.39,419.48 519.53,425.60 519.68,431.22 519.82,436.42 519.96,440.94 520.11,445.06 520.25,448.35 520.40,450.98 520.54,454.42 520.68,456.45 520.83,456.35 520.97,458.11 521.11,458.86 521.26,458.27 521.40,459.03 521.54,459.98 521.69,459.95 521.83,459.04 521.97,456.52 522.12,453.84 522.26,450.67 522.40,448.03 522.55,445.12 522.69,441.37 522.84,437.91 522.98,433.38 523.12,428.50 523.27,423.16 523.41,417.39 523.55,410.79 523.70,416.01 523.84,421.29 523.98,426.17 524.13,430.78 524.27,435.03 524.41,438.88 524.56,442.69 524.70,446.04 524.85,448.74 524.99,449.33 525.13,450.46 525.28,448.41 525.42,449.99 525.56,453.59 525.71,456.33 525.85,456.37 525.99,457.84 526.14,455.53 526.28,452.26 526.42,451.83 526.57,450.74 526.71,447.56 526.85,446.20 527.00,443.43 527.14,439.79 527.29,435.81 527.43,431.36 527.57,426.48 527.72,421.19 527.86,415.52 528.00,409.42 528.15,404.41 528.29,411.33 528.43,417.49 528.58,423.22 528.72,428.54 528.86,433.56 529.01,438.27 529.15,442.08 529.30,445.81 529.44,448.44 529.58,450.91 529.73,451.75 529.87,454.21 530.01,455.14 530.16,457.52 530.30,458.14 530.44,456.92 530.59,457.15 530.73,457.29 530.87,455.51 531.02,455.84 531.16,455.22 531.30,452.89 531.45,450.47 531.59,447.74 531.74,444.19 531.88,440.26 532.02,436.62 532.17,432.56 532.31,428.11 532.45,423.40 532.60,418.20 532.74,416.57 532.88,422.69 533.03,428.23 533.17,433.30 533.31,437.98 533.46,442.46 533.60,445.70 533.75,448.41 533.89,451.60 534.03,455.22 534.18,454.60 534.32,455.63 534.46,457.06 534.61,461.12 534.75,459.78 534.89,462.59 535.04,463.71 535.18,462.67 535.32,459.47 535.47,460.17 535.61,458.18 535.76,455.45 535.90,454.45 536.04,452.01 536.19,449.06 536.33,445.37 536.47,441.22 536.62,436.38 536.76,431.17 536.90,425.55 537.05,419.63 537.19,413.11 537.33,413.67 537.48,420.29 537.62,426.36 537.76,432.02 537.91,437.17 538.05,442.10 538.20,446.60 538.34,450.79 538.48,453.44 538.63,455.93 538.77,456.81 538.91,458.87 539.06,458.10 539.20,459.94 539.34,462.50 539.49,465.31 539.63,463.77 539.77,463.16 539.92,464.02 540.06,461.45 540.21,456.91 540.35,456.87 540.49,456.32 540.64,453.93 540.78,452.31 540.92,449.49 541.07,445.68 541.21,441.52 541.35,437.04 541.50,432.25 541.64,427.11 541.78,421.41 541.93,424.37 542.07,430.00 542.21,435.08 542.36,439.94 542.50,444.48 542.65,448.27 542.79,451.76 542.93,455.49 543.08,457.31 543.22,460.47 543.36,462.71 543.51,463.95 543.65,460.53 543.79,463.75 543.94,462.34 544.08,464.77 544.22,462.34 544.37,464.78 544.51,463.85 544.66,461.22 544.80,459.71 544.94,458.43 545.09,457.11 545.23,452.76 545.37,449.81 545.52,445.40 545.66,442.22 545.80,436.95 545.95,432.10 546.09,426.72 546.23,420.50 546.38,413.32 546.52,419.57 546.66,425.87 546.81,431.62 546.95,436.87 547.10,441.74 547.24,446.47 547.38,450.86 547.53,454.75 547.67,458.28 547.81,460.80 547.96,461.66 548.10,463.55 548.24,462.93 548.39,461.27 548.53,459.26 548.67,460.83 548.82,459.06 548.96,461.32 549.11,462.44 549.25,464.33 549.39,461.74 549.54,460.53 549.68,457.96 549.82,454.93 549.97,450.82 550.11,448.06 550.25,443.40 550.40,439.63 550.54,435.40 550.68,430.52 550.83,425.04 550.97,420.59 551.11,427.31 551.26,433.25 551.40,438.62 551.55,443.64 551.69,448.18 551.83,451.28 551.98,453.73 552.12,457.83 552.26,457.44 552.41,458.29 552.55,458.37 552.69,461.01 552.84,462.45 552.98,467.43 553.12,469.76 553.27,469.78 553.41,467.77 553.56,462.98 553.70,461.42 553.84,461.56 553.99,462.39 554.13,462.08 554.27,460.83 554.42,457.66 554.56,453.93 554.70,449.75 554.85,445.26 554.99,440.10 555.13,434.67 555.28,428.81 555.42,422.42 555.56,420.05 555.71,426.69 555.85,432.59 556.00,437.73 556.14,442.82 556.28,446.82 556.43,450.89 556.57,455.04 556.71,457.40 556.86,457.42 557.00,460.11 557.14,460.55 557.29,461.96 557.43,467.06 557.57,469.36 557.72,466.14 557.86,465.75 558.01,464.77 558.15,465.38 558.29,462.44 558.44,461.72 558.58,460.04 558.72,457.75 558.87,454.92 559.01,454.61 559.15,454.13 559.30,451.34 559.44,447.30 559.58,442.88 559.73,438.08 559.87,432.94 560.01,427.48 560.16,427.93 560.30,433.38 560.45,438.37 560.59,442.82 560.73,446.87 560.88,448.66 561.02,453.00 561.16,455.73 561.31,459.39 561.45,461.31 561.59,463.91 561.74,463.58 561.88,463.12 562.02,461.63 562.17,460.12 562.31,459.01 562.46,458.34 562.60,460.83 562.74,463.04 562.89,463.14 563.03,465.57 563.17,463.75 563.32,461.69 563.46,457.91 563.60,453.72 563.75,450.34 563.89,448.08 564.03,444.24 564.18,439.70 564.32,435.44 564.47,430.16 564.61,424.25 564.75,427.33 564.90,433.51 565.04,438.20 565.18,442.14 565.33,446.12 565.47,450.81 565.61,453.09 565.76,458.52 565.90,462.29 566.04,464.52 566.19,466.07 566.33,465.69 566.47,463.54 566.62,463.17 566.76,462.84 566.91,463.89 567.05,462.30 567.19,465.58 567.34,467.39 567.48,468.78 567.62,467.70 567.77,467.81 567.91,466.28 568.05,463.60 568.20,460.65 568.34,457.68 568.48,454.67 568.63,450.26 568.77,446.02 568.92,441.22 569.06,436.02 569.20,430.00 569.35,435.18 569.49,440.17 569.63,444.82 569.78,448.96 569.92,451.99 570.06,455.22 570.21,458.67 570.35,460.65 570.49,460.05 570.64,462.94 570.78,464.25 570.92,465.23 571.07,463.41 571.21,465.38 571.36,466.25 571.50,464.61 571.64,463.96 571.79,463.83 571.93,462.99 572.07,460.78 572.22,458.70 572.36,456.99 572.50,456.99 572.65,456.00 572.79,452.96 572.93,452.09 573.08,448.71 573.22,445.20 573.37,440.07 573.51,435.69 573.65,430.06 573.80,425.56 573.94,432.56 574.08,439.05 574.23,444.83 574.37,449.45 574.51,453.12 574.66,454.87 574.80,455.10 574.94,449.65 575.09,456.56 575.23,459.97 575.37,461.21 575.52,462.22 575.66,467.16 575.81,465.00 575.95,465.82 576.09,468.27 576.24,467.52 576.38,466.59 576.52,468.93 576.67,466.22 576.81,463.92 576.95,465.13 577.10,466.08 577.24,462.75 577.38,461.90 577.53,459.18 577.67,457.04 577.82,454.33 577.96,450.16 578.10,445.26 578.25,440.31 578.39,438.18 578.53,442.64 578.68,447.34 578.82,451.76 578.96,455.60 579.11,458.68 579.25,461.07 579.39,461.56 579.54,463.22 579.68,463.39 579.82,464.22 579.97,466.06 580.11,464.91 580.26,464.78 580.40,462.19 580.54,462.53 580.69,460.60 580.83,463.28 580.97,462.10 581.12,466.34 581.26,466.30 581.40,467.87 581.55,465.97 581.69,463.25 581.83,460.02 581.98,458.12 582.12,454.42 582.27,451.75 582.41,447.36 582.55,442.82 582.70,437.53 582.84,431.85 582.98,432.75 583.13,439.58 583.27,445.57 583.41,451.00 583.56,455.79 583.70,460.08 583.84,463.80 583.99,466.53 584.13,467.27 584.27,465.71 584.42,466.28 584.56,464.37 584.71,465.64 584.85,467.82 584.99,467.45 585.14,467.22 585.28,466.87 585.42,464.17 585.57,465.20 585.71,461.77 585.85,460.56 586.00,459.48 586.14,461.04 586.28,457.54 586.43,458.71 586.57,458.11 586.72,457.22 586.86,453.20 587.00,452.58 587.15,448.69 587.29,444.12 587.43,438.74 587.58,442.07 587.72,447.38 587.86,452.56 588.01,457.30 588.15,461.13 588.29,461.34 588.44,464.09 588.58,465.59 588.72,464.29 588.87,464.28 589.01,467.58 589.16,467.21 589.30,465.73 589.44,466.09 589.59,467.79 589.73,466.26 589.87,469.45 590.02,469.39 590.16,470.07 590.30,466.24 590.45,468.51 590.59,468.19 590.73,467.75 590.88,466.65 591.02,465.62 591.17,462.14 591.31,457.64 591.45,454.99 591.60,449.71 591.74,445.66 591.88,439.63 592.03,432.79 592.17,438.68 592.31,444.64 592.46,448.51 592.60,453.74 592.74,458.02 592.89,459.85 593.03,461.55 593.18,463.02 593.32,461.80 593.46,458.99 593.61,456.25 593.75,458.40 593.89,461.01 594.04,462.32 594.18,464.56 594.32,467.66 594.47,468.78 594.61,467.06 594.75,464.07 594.90,465.20 595.04,460.75 595.18,460.72 595.33,462.68 595.47,463.63 595.62,460.29 595.76,461.13 595.90,458.47 596.05,456.67 596.19,454.70 596.33,451.09 596.48,446.32 596.62,442.28 596.76,447.84 596.91,451.39 597.05,454.37 597.19,456.03 597.34,458.43 597.48,458.93 597.63,457.28 597.77,457.71 597.91,463.47 598.06,464.91 598.20,466.39 598.34,465.66 598.49,468.65 598.63,465.83 598.77,466.37 598.92,465.56 599.06,468.93 599.20,466.55 599.35,467.70 599.49,468.11 599.63,469.35 599.78,467.91 599.92,468.37 600.07,466.71 600.21,463.23 600.35,459.52 600.50,456.86 600.64,452.99 600.78,449.77 600.93,444.71 601.07,439.03 601.21,437.28 601.36,444.10 601.50,448.80 601.64,455.30 601.79,459.45 601.93,462.68 602.08,464.61 602.22,471.04 602.36,469.57 602.51,471.46 602.65,465.47 602.79,465.77 602.94,461.33 603.08,462.01 603.22,464.16 603.37,468.96 603.51,472.11 603.65,471.21 603.80,472.12 603.94,471.10 604.08,472.56 604.23,472.56 604.37,469.60 604.52,466.02 604.66,462.12 604.80,460.92 604.95,458.62 605.09,461.13 605.23,460.68 605.38,457.72 605.52,453.17 605.66,448.51 605.81,448.98 605.95,454.24 606.09,459.45 606.24,463.39 606.38,464.97 606.53,466.75 606.67,465.86 606.81,463.98 606.96,460.28 607.10,464.14 607.24,463.69 607.39,464.18 607.53,464.25 607.67,467.05 607.82,465.63 607.96,463.44 608.10,465.34 608.25,465.71 608.39,462.94 608.53,462.20 608.68,463.66 608.82,460.44 608.97,460.07 609.11,459.50 609.25,457.85 609.40,459.31 609.54,458.25 609.68,456.39 609.83,457.96 609.97,454.64 610.11,449.98 610.26,444.76 610.40,447.25 610.54,451.75 610.69,455.25 610.83,456.88 610.98,459.92 611.12,464.57 611.26,467.77 611.41,470.66 611.55,472.56 611.69,472.56 611.84,470.90 611.98,469.48 612.12,468.00 612.27,466.89 612.41,467.33 612.55,463.58 612.70,465.57 612.84,464.72 612.98,463.36 613.13,465.25 613.27,468.96 613.42,467.91 613.56,466.59 613.70,466.41 613.85,465.25 613.99,463.34 614.13,461.73 614.28,461.56 614.42,460.91 614.56,456.99 614.71,454.92 614.85,450.25 614.99,455.91 615.14,461.15 615.28,466.10 615.43,468.34 615.57,470.16 615.71,470.75 615.86,467.77 616.00,472.56 616.14,471.07 616.29,471.58 616.43,471.82 616.57,472.50 616.72,469.14 616.86,472.56 617.00,472.56 617.15,472.56 617.29,472.56 617.43,472.56 617.58,472.56 617.72,472.56 617.87,471.99 618.01,470.21 618.15,471.65 618.30,470.89 618.44,470.75 618.58,471.15 618.73,470.16 618.87,465.86 619.01,461.31 619.16,456.20 619.30,450.34 619.44,445.59 619.59,450.93 619.73,455.40 619.88,461.93 620.02,467.91 620.16,470.87 620.31,471.70 620.45,472.56 620.59,472.56 620.74,470.76 620.88,472.56 621.02,472.32 621.17,471.15 621.31,468.11 621.45,468.17 621.60,468.52 621.74,471.39 621.89,466.39 622.03,462.99 622.17,463.58 622.32,464.05 622.46,460.86 622.60,466.49 622.75,470.41 622.89,472.56 623.03,467.08 623.18,472.42 623.32,467.98 623.46,462.60 623.61,459.78 623.75,460.25 623.89,452.40 624.04,451.23 624.18,454.72 624.33,456.28 624.47,457.48 624.61,460.75 624.76,460.55 624.90,464.59 625.04,465.62 625.19,463.64 625.33,465.07 625.47,468.57 625.62,468.98 625.76,470.99 625.90,472.56 626.05,472.56 626.19,472.56 626.34,472.56 626.48,466.00 626.62,462.53 626.77,462.57 626.91,459.84 627.05,460.38 627.20,467.83 627.34,463.85 627.48,465.82 627.63,468.37 627.77,464.62 627.91,463.14 628.06,462.21 628.20,457.62 628.34,454.40 628.49,450.86 628.63,450.62 628.78,455.75 628.92,460.30 629.06,464.72 629.21,469.86 629.35,471.13 629.49,471.74 629.64,469.81 629.78,466.18 629.92,463.61 630.07,462.25 630.21,460.36 630.35,460.78 630.50,456.56 630.64,455.85 630.79,456.85 630.93,464.32 631.07,466.03 631.22,469.42 631.36,471.56 631.50,470.63 631.65,470.67 631.79,470.64 631.93,467.45 632.08,471.16 632.22,472.56 632.36,472.56 632.51,470.90 632.65,471.32 632.79,466.85 632.94,462.62 633.08,458.69 633.23,461.64 633.37,464.03 633.51,464.99 633.66,463.69 633.80,465.71 633.94,467.48 634.09,467.61 634.23,467.96 634.37,470.20 634.52,468.63 634.66,468.98 634.80,469.57 634.95,468.51 635.09,471.70 635.24,464.79 635.38,465.65 635.52,466.94 635.67,472.36 635.81,472.11 635.95,472.56 636.10,472.56 636.24,472.56 636.38,472.29 636.53,467.59 636.67,468.45 636.81,468.13 636.96,465.31 637.10,460.96 637.24,460.89 637.39,455.27 637.53,453.78 637.68,449.88 637.82,455.50 637.96,458.19 638.11,462.97 638.25,463.87 638.39,464.10 638.54,466.07 638.68,467.10 638.82,465.78 638.97,467.64 639.11,469.79 639.25,467.42 639.40,467.84 639.54,469.41 639.69,464.85 639.83,463.21 639.97,465.78 640.12,465.79 640.26,465.39 640.40,469.56 640.55,470.87 640.69,466.77 640.83,465.74 640.98,465.27 641.12,466.22 641.26,468.10 641.41,471.82 641.55,469.10 641.69,466.90 641.84,462.41 641.98,458.82 642.13,456.05 642.27,456.71 642.41,461.96 642.56,464.70 642.70,466.67 642.84,470.70 642.99,471.54 643.13,467.97 643.27,468.77 643.42,469.68 643.56,468.48 643.70,471.00 643.85,472.56 643.99,472.56 644.14,472.56 644.28,472.56 644.42,471.80 644.57,472.31 644.71,470.65 644.85,472.39 645.00,466.01 645.14,470.62 645.28,465.83 645.43,467.41 645.57,459.31 645.71,463.69 645.86,459.50 646.00,461.84 646.14,460.23 646.29,462.38 646.43,460.59 646.58,460.42 646.72,456.19 646.86,455.15 647.01,459.63 647.15,461.00 647.29,459.41 647.44,461.66 647.58,461.23 647.72,463.12 647.87,468.91 648.01,465.40 648.15,466.81 648.30,467.66 648.44,468.88 648.59,465.82 648.73,471.55 648.87,469.46 649.02,468.99 649.16,468.05 649.30,463.40 649.45,463.93 649.59,465.45 649.73,468.03 649.88,469.45 650.02,472.41 650.16,472.56 650.31,472.56 650.45,472.56 650.60,472.37 650.74,472.56 650.88,471.11 651.03,467.83 651.17,465.61 651.31,462.94 651.46,463.10 651.60,465.28 651.74,467.72 651.89,468.54 652.03,467.45 652.17,471.44 652.32,470.27 652.46,470.47 652.60,471.35 652.75,472.56 652.89,471.58 653.04,472.56 653.18,472.56 653.32,472.56 653.47,472.56 653.61,472.56 653.75,469.43 653.90,464.78 654.04,463.61 654.18,464.58 654.33,466.62 654.47,465.11 654.61,470.88 654.76,469.22 654.90,468.21 655.05,467.80 655.19,472.51 655.33,467.71 655.48,470.00 655.62,469.37 655.76,468.26 655.91,463.91 656.05,467.11 656.19,468.75 656.34,466.49 656.48,464.53 656.62,463.75 656.77,460.45 656.91,455.74 657.05,459.52 657.20,458.87 657.34,461.75 657.49,459.52 657.63,461.07 657.77,457.99 657.92,458.81 658.06,456.33 658.20,463.64 658.35,466.38 658.49,470.09 658.63,469.49 658.78,469.99 658.92,469.22 659.06,467.12 659.21,467.46 659.35,468.60 659.50,469.00 659.64,467.96 659.78,472.56 659.93,471.21 660.07,469.28 660.21,468.29 660.36,431.67 660.50,386.02" fill="none" stroke="#000" stroke-width="1.5" stroke-linejoin="round"/></g>
<polyline points="86.30,468.41 88.70,466.42 91.11,465.30 93.51,464.69 95.91,463.74 98.31,462.44 100.72,461.62 103.12,461.41 105.52,460.88 107.92,459.34 110.33,457.41 112.73,456.03 115.13,455.08 117.53,453.77 119.94,452.06 122.34,450.87 124.74,450.60 127.14,450.42 129.55,449.45 131.95,447.95 134.35,446.79 136.75,445.96 139.16,444.62 141.56,442.59 143.96,440.81 146.36,440.01 148.77,439.66 151.17,438.83 153.57,437.60 155.97,436.77 158.38,436.37 160.78,435.49 163.18,433.65 165.58,431.62 167.99,430.32 170.39,429.53 172.79,428.40 175.19,426.95 177.60,426.03 180.00,425.87 182.40,425.55 184.80,424.28 187.21,422.53 189.61,421.20 192.01,420.23 194.41,418.84 196.82,416.95 199.22,415.49 201.62,415.03 204.02,414.84 206.43,413.99 208.83,412.66 211.23,411.67 213.63,411.02 216.04,409.83 218.44,407.81 220.84,405.86 223.24,404.81 225.65,404.26 228.05,403.33 230.45,402.06 232.85,401.26 235.26,401.02 237.66,400.41 240.06,398.80 242.46,396.84 244.87,395.47 247.27,394.54 249.67,393.25 252.07,391.60 254.48,390.48 256.88,390.25 259.28,390.06 261.68,389.02 264.09,387.48 266.49,386.28 268.89,385.41 271.29,384.03 273.70,382.02 276.10,380.31 278.50,379.59 280.90,379.28 283.31,378.45 285.71,377.22 288.11,376.36 290.51,375.92 292.92,374.96 295.32,373.07 297.72,371.04 300.12,369.79 302.53,369.04 304.93,367.95 307.33,366.55 309.73,365.67 312.14,365.51 314.54,365.13 316.94,363.79 319.34,361.99 321.75,360.64 324.15,359.67 326.55,358.28 328.95,356.43 331.36,355.06 333.76,354.66 336.16,354.48 338.56,353.60 340.97,352.23 343.37,351.21 345.77,350.51 348.17,349.26 350.58,347.22 352.98,345.31 355.38,344.33 357.78,343.83 360.19,342.93 362.59,341.68 364.99,340.89 367.39,345.69 369.80,345.00 372.20,343.32 374.60,337.34 377.00,338.13 379.41,339.38 381.81,340.27 384.21,340.82 386.61,341.92 389.02,343.88 391.42,345.80 393.82,346.85 396.22,347.40 398.63,348.33 401.03,349.57 403.43,350.32 405.83,350.47 408.24,350.98 410.64,352.49 413.04,354.36 415.44,355.68 417.85,356.58 420.25,357.86 422.65,359.51 425.05,360.63 427.46,360.83 429.86,360.97 432.26,361.92 434.66,363.37 437.07,364.46 439.47,365.25 441.87,366.57 444.27,368.55 446.68,370.26 449.08,370.98 451.48,371.29 453.88,372.08 456.29,373.26 458.69,374.03 461.09,374.38 463.49,375.23 465.90,377.04 468.30,379.01 470.70,380.24 473.10,380.98 475.51,382.07 477.91,383.47 480.31,384.32 482.71,384.42 485.12,384.71 487.52,385.95 489.92,387.65 492.32,388.92 494.73,389.83 497.13,391.20 499.53,393.04 501.93,394.42 504.34,394.81 506.74,394.96 509.14,395.78 511.54,397.06 513.95,397.98 516.35,398.59 518.75,399.75 521.15,401.73 523.56,403.62 525.96,404.60 528.36,405.10 530.76,406.00 533.17,407.21 535.57,407.94 537.97,408.12 540.37,408.71 542.78,410.29 545.18,412.20 547.58,413.50 549.98,414.38 552.39,415.64 554.79,417.23 557.19,418.28 559.59,418.44 562.00,418.60 564.40,419.61 566.80,421.11 569.20,422.24 571.61,423.07 574.01,424.41 576.41,426.38 578.81,428.02 581.22,428.67 583.62,428.93 586.02,429.73 588.42,430.91 590.83,431.70 593.23,432.09 595.63,433.03 598.03,434.89 600.44,436.85 602.84,438.03 605.24,438.73 607.64,439.79 610.05,441.13 612.45,441.94 614.85,442.04 617.25,442.39 619.66,443.71 622.06,445.46 624.46,446.73 626.86,447.66 629.27,449.01 631.67,450.82 634.07,452.11 636.47,452.44 638.88,452.59 641.28,453.44 643.68,454.75 646.08,455.71 648.49,456.37 650.89,457.59 653.29,459.59 655.69,461.43 658.10,462.34 660.50,462.42" fill="none" stroke="#e8392f" stroke-width="2.9" stroke-linejoin="round" stroke-linecap="round"/>
<rect x="96" y="271.5" width="204" height="85" fill="#fff"/>
<line x1="127.1" x2="288.0" y1="301.40" y2="301.40" stroke="#d9d9d9" stroke-width="0.9"/>
<line x1="127.1" x2="288.0" y1="321.40" y2="321.40" stroke="#d9d9d9" stroke-width="0.9"/>
<line x1="207.55" x2="207.55" y1="281.0" y2="331.6" stroke="#d9d9d9" stroke-width="0.9"/>
<polyline points="127.10,317.27 127.26,322.55 127.42,321.36 127.58,319.90 127.74,318.36 127.90,316.74 128.07,315.09 128.23,313.43 128.39,311.77 128.55,310.14 128.71,308.57 128.87,307.06 129.03,305.65 129.19,304.35 129.35,303.17 129.51,302.13 129.67,301.25 129.84,300.52 130.00,299.98 130.16,299.61 130.32,299.42 130.48,299.42 130.64,299.58 130.80,299.91 130.96,300.39 131.12,301.03 131.28,301.81 131.44,302.73 131.61,303.77 131.77,304.92 131.93,306.17 132.09,307.49 132.25,308.89 132.41,310.32 132.57,311.79 132.73,313.26 132.89,314.72 133.05,316.14 133.21,317.51 133.38,318.79 133.54,319.98 133.70,321.03 133.86,321.93 134.02,322.62 134.18,323.06 134.34,322.97 134.50,322.49 134.66,321.79 134.82,320.93 134.98,319.92 135.14,318.80 135.31,317.60 135.47,316.33 135.63,315.01 135.79,313.67 135.95,312.32 136.11,310.98 136.27,309.67 136.43,308.41 136.59,307.21 136.75,306.09 136.91,305.06 137.08,304.14 137.24,303.34 137.40,302.66 137.56,302.11 137.72,301.71 137.88,301.46 138.04,301.35 138.20,301.40 138.36,301.61 138.52,301.98 138.68,302.50 138.85,303.17 139.01,303.98 139.17,304.91 139.33,305.97 139.49,307.13 139.65,308.38 139.81,309.70 139.97,311.09 140.13,312.51 140.29,313.95 140.45,315.39 140.62,316.82 140.78,318.20 140.94,319.52 141.10,320.75 141.26,321.88 141.42,322.87 141.58,323.70 141.74,324.31 141.90,324.63 142.06,324.39 142.22,323.86 142.39,323.14 142.55,322.26 142.71,321.26 142.87,320.17 143.03,318.99 143.19,317.76 143.35,316.49 143.51,315.20 143.67,313.90 143.83,312.63 143.99,311.39 144.16,310.19 144.32,309.07 144.48,308.02 144.64,307.06 144.80,306.21 144.96,305.48 145.12,304.87 145.28,304.39 145.44,304.04 145.60,303.84 145.76,303.78 145.93,303.87 146.09,304.11 146.25,304.48 146.41,305.00 146.57,305.65 146.73,306.42 146.89,307.30 147.05,308.29 147.21,309.38 147.37,310.53 147.53,311.76 147.70,313.03 147.86,314.33 148.02,315.64 148.18,316.95 148.34,318.24 148.50,319.48 148.66,320.66 148.82,321.76 148.98,322.75 149.14,323.61 149.30,324.30 149.47,324.80 149.63,324.93 149.79,324.50 149.95,323.77 150.11,322.82 150.27,321.69 150.43,320.43 150.59,319.04 150.75,317.57 150.91,316.04 151.07,314.46 151.23,312.87 151.40,311.29 151.56,309.73 151.72,308.21 151.88,306.77 152.04,305.41 152.20,304.15 152.36,303.01 152.52,302.01 152.68,301.15 152.84,300.44 153.00,299.90 153.17,299.53 153.33,299.33 153.49,299.31 153.65,299.44 153.81,299.71 153.97,300.12 154.13,300.66 154.29,301.33 154.45,302.11 154.61,303.00 154.77,303.99 154.94,305.07 155.10,306.22 155.26,307.42 155.42,308.67 155.58,309.94 155.74,311.21 155.90,312.48 156.06,313.72 156.22,314.91 156.38,316.04 156.54,317.08 156.71,318.00 156.87,318.80 157.03,319.42 157.19,319.83 157.35,319.78 157.51,319.28 157.67,318.54 157.83,317.61 157.99,316.52 158.15,315.31 158.31,314.00 158.48,312.61 158.64,311.17 158.80,309.70 158.96,308.23 159.12,306.76 159.28,305.32 159.44,303.94 159.60,302.62 159.76,301.38 159.92,300.25 160.08,299.23 160.25,298.33 160.41,297.57 160.57,296.97 160.73,296.51 160.89,296.21 161.05,296.08 161.21,296.12 161.37,296.35 161.53,296.78 161.69,297.38 161.85,298.17 162.02,299.12 162.18,300.23 162.34,301.48 162.50,302.86 162.66,304.34 162.82,305.92 162.98,307.57 163.14,309.27 163.30,311.00 163.46,312.73 163.62,314.44 163.79,316.10 163.95,317.69 164.11,319.18 164.27,320.55 164.43,321.75 164.59,322.76 164.75,323.53 164.91,323.96 165.07,323.74 165.23,323.16 165.39,322.35 165.56,321.37 165.72,320.24 165.88,319.00 166.04,317.66 166.20,316.25 166.36,314.80 166.52,313.33 166.68,311.85 166.84,310.39 167.00,308.96 167.16,307.59 167.32,306.29 167.49,305.09 167.65,303.98 167.81,303.00 167.97,302.14 168.13,301.43 168.29,300.86 168.45,300.45 168.61,300.21 168.77,300.12 168.93,300.20 169.09,300.43 169.26,300.82 169.42,301.35 169.58,302.02 169.74,302.82 169.90,303.74 170.06,304.78 170.22,305.91 170.38,307.12 170.54,308.41 170.70,309.75 170.86,311.12 171.03,312.50 171.19,313.89 171.35,315.25 171.51,316.56 171.67,317.82 171.83,318.98 171.99,320.04 172.15,320.96 172.31,321.72 172.47,322.27 172.63,322.47 172.80,322.06 172.96,321.32 173.12,320.35 173.28,319.20 173.44,317.89 173.60,316.46 173.76,314.94 173.92,313.34 174.08,311.70 174.24,310.05 174.40,308.39 174.57,306.76 174.73,305.18 174.89,303.67 175.05,302.24 175.21,300.92 175.37,299.72 175.53,298.66 175.69,297.74 175.85,296.99 176.01,296.41 176.17,296.01 176.34,295.78 176.50,295.75 176.66,295.87 176.82,296.14 176.98,296.55 177.14,297.11 177.30,297.81 177.46,298.63 177.62,299.56 177.78,300.60 177.94,301.74 178.11,302.95 178.27,304.22 178.43,305.53 178.59,306.88 178.75,308.23 178.91,309.58 179.07,310.90 179.23,312.17 179.39,313.37 179.55,314.48 179.71,315.48 179.88,316.33 180.04,317.02 180.20,317.47 180.36,317.51 180.52,317.09 180.68,316.45 180.84,315.65 181.00,314.70 181.16,313.64 181.32,312.49 181.48,311.28 181.65,310.01 181.81,308.72 181.97,307.42 182.13,306.12 182.29,304.85 182.45,303.63 182.61,302.46 182.77,301.36 182.93,300.35 183.09,299.44 183.25,298.64 183.41,297.96 183.58,297.41 183.74,296.99 183.90,296.72 184.06,296.59 184.22,296.60 184.38,296.78 184.54,297.12 184.70,297.61 184.86,298.26 185.02,299.05 185.18,299.97 185.35,301.01 185.51,302.15 185.67,303.40 185.83,304.72 185.99,306.10 186.15,307.52 186.31,308.97 186.47,310.43 186.63,311.87 186.79,313.27 186.95,314.61 187.12,315.88 187.28,317.03 187.44,318.06 187.60,318.93 187.76,319.60 187.92,320.00 188.08,319.81 188.24,319.20 188.40,318.33 188.56,317.25 188.72,316.02 188.89,314.65 189.05,313.18 189.21,311.63 189.37,310.02 189.53,308.39 189.69,306.75 189.85,305.13 190.01,303.54 190.17,302.02 190.33,300.57 190.49,299.22 190.66,297.99 190.82,296.88 190.98,295.92 191.14,295.11 191.30,294.47 191.46,294.00 191.62,293.71 191.78,293.60 191.94,293.66 192.10,293.89 192.26,294.27 192.43,294.81 192.59,295.49 192.75,296.31 192.91,297.27 193.07,298.33 193.23,299.51 193.39,300.77 193.55,302.10 193.71,303.49 193.87,304.92 194.03,306.36 194.20,307.81 194.36,309.23 194.52,310.61 194.68,311.92 194.84,313.15 195.00,314.27 195.16,315.25 195.32,316.05 195.48,316.65 195.64,316.92 195.80,316.63 195.97,316.06 196.13,315.31 196.29,314.40 196.45,313.37 196.61,312.25 196.77,311.04 196.93,309.78 197.09,308.48 197.25,307.16 197.41,305.84 197.57,304.54 197.74,303.28 197.90,302.07 198.06,300.92 198.22,299.86 198.38,298.90 198.54,298.04 198.70,297.30 198.86,296.69 199.02,296.22 199.18,295.88 199.34,295.69 199.50,295.65 199.67,295.75 199.83,295.99 199.99,296.37 200.15,296.89 200.31,297.54 200.47,298.30 200.63,299.18 200.79,300.16 200.95,301.23 201.11,302.37 201.27,303.57 201.44,304.82 201.60,306.10 201.76,307.38 201.92,308.66 202.08,309.92 202.24,311.13 202.40,312.28 202.56,313.34 202.72,314.30 202.88,315.13 203.04,315.80 203.21,316.26 203.37,316.34 203.53,314.28 203.69,312.19 203.85,310.12 204.01,308.08 204.17,306.06 204.33,304.07 204.49,302.11 204.65,300.18 204.81,298.27 204.98,296.41 205.14,294.57 205.30,292.77 205.46,291.01 205.62,289.29 205.78,287.62 205.94,286.00 206.10,284.42 206.26,282.91 206.42,281.47 206.58,281.00 206.75,281.00 206.91,281.00 207.07,281.00 207.23,281.00 207.39,281.00 207.55,281.00 207.71,281.00 207.87,281.47 208.03,282.91 208.19,284.42 208.35,286.00 208.52,287.62 208.68,289.29 208.84,291.01 209.00,292.77 209.16,294.57 209.32,296.41 209.48,298.27 209.64,300.18 209.80,302.11 209.96,304.07 210.12,306.06 210.29,308.08 210.45,310.12 210.61,312.19 210.77,314.28 210.93,316.40 211.09,316.68 211.25,316.17 211.41,315.44 211.57,314.52 211.73,313.47 211.89,312.29 212.06,311.02 212.22,309.69 212.38,308.30 212.54,306.89 212.70,305.47 212.86,304.06 213.02,302.68 213.18,301.36 213.34,300.10 213.50,298.92 213.66,297.84 213.83,296.87 213.99,296.02 214.15,295.31 214.31,294.74 214.47,294.32 214.63,294.05 214.79,293.94 214.95,293.99 215.11,294.21 215.27,294.59 215.43,295.14 215.59,295.84 215.76,296.69 215.92,297.67 216.08,298.77 216.24,299.99 216.40,301.30 216.56,302.69 216.72,304.13 216.88,305.62 217.04,307.13 217.20,308.65 217.36,310.14 217.53,311.58 217.69,312.97 217.85,314.26 218.01,315.44 218.17,316.48 218.33,317.35 218.49,317.99 218.65,318.33 218.81,318.05 218.97,317.43 219.13,316.60 219.30,315.59 219.46,314.44 219.62,313.17 219.78,311.81 219.94,310.39 220.10,308.92 220.26,307.43 220.42,305.94 220.58,304.46 220.74,303.03 220.90,301.65 221.07,300.35 221.23,299.14 221.39,298.04 221.55,297.06 221.71,296.21 221.87,295.50 222.03,294.95 222.19,294.55 222.35,294.32 222.51,294.25 222.67,294.35 222.84,294.61 223.00,295.03 223.16,295.60 223.32,296.33 223.48,297.19 223.64,298.17 223.80,299.28 223.96,300.48 224.12,301.78 224.28,303.14 224.44,304.55 224.61,306.00 224.77,307.47 224.93,308.93 225.09,310.36 225.25,311.75 225.41,313.06 225.57,314.28 225.73,315.39 225.89,316.35 226.05,317.13 226.21,317.68 226.38,317.84 226.54,317.49 226.70,316.90 226.86,316.14 227.02,315.24 227.18,314.22 227.34,313.11 227.50,311.93 227.66,310.70 227.82,309.43 227.98,308.16 228.15,306.88 228.31,305.63 228.47,304.42 228.63,303.26 228.79,302.16 228.95,301.16 229.11,300.24 229.27,299.43 229.43,298.74 229.59,298.18 229.75,297.74 229.92,297.44 230.08,297.29 230.24,297.27 230.40,297.42 230.56,297.73 230.72,298.20 230.88,298.82 231.04,299.59 231.20,300.50 231.36,301.52 231.52,302.66 231.68,303.90 231.85,305.22 232.01,306.61 232.17,308.04 232.33,309.51 232.49,310.98 232.65,312.44 232.81,313.87 232.97,315.24 233.13,316.53 233.29,317.73 233.45,318.80 233.62,319.71 233.78,320.43 233.94,320.90 234.10,320.85 234.26,320.31 234.42,319.51 234.58,318.49 234.74,317.31 234.90,316.00 235.06,314.58 235.22,313.08 235.39,311.52 235.55,309.93 235.71,308.33 235.87,306.74 236.03,305.18 236.19,303.68 236.35,302.25 236.51,300.91 236.67,299.68 236.83,298.57 236.99,297.60 237.16,296.78 237.32,296.12 237.48,295.62 237.64,295.30 237.80,295.16 237.96,295.20 238.12,295.41 238.28,295.79 238.44,296.35 238.60,297.07 238.76,297.94 238.93,298.95 239.09,300.10 239.25,301.36 239.41,302.72 239.57,304.17 239.73,305.68 239.89,307.23 240.05,308.81 240.21,310.39 240.37,311.96 240.53,313.48 240.70,314.94 240.86,316.30 241.02,317.55 241.18,318.65 241.34,319.58 241.50,320.28 241.66,320.67 241.82,320.48 241.98,319.96 242.14,319.24 242.30,318.36 242.47,317.36 242.63,316.25 242.79,315.06 242.95,313.81 243.11,312.51 243.27,311.20 243.43,309.88 243.59,308.58 243.75,307.31 243.91,306.09 244.07,304.93 244.24,303.85 244.40,302.87 244.56,301.99 244.72,301.23 244.88,300.59 245.04,300.09 245.20,299.73 245.36,299.50 245.52,299.43 245.68,299.50 245.84,299.72 246.01,300.08 246.17,300.57 246.33,301.20 246.49,301.94 246.65,302.81 246.81,303.77 246.97,304.83 247.13,305.96 247.29,307.16 247.45,308.41 247.61,309.69 247.77,310.98 247.94,312.27 248.10,313.54 248.26,314.77 248.42,315.94 248.58,317.03 248.74,318.02 248.90,318.88 249.06,319.59 249.22,320.09 249.38,320.29 249.54,319.93 249.71,319.29 249.87,318.44 250.03,317.43 250.19,316.30 250.35,315.05 250.51,313.72 250.67,312.33 250.83,310.90 250.99,309.46 251.15,308.02 251.31,306.60 251.48,305.22 251.64,303.90 251.80,302.66 251.96,301.51 252.12,300.46 252.28,299.54 252.44,298.74 252.60,298.09 252.76,297.58 252.92,297.23 253.08,297.03 253.25,297.00 253.41,297.16 253.57,297.52 253.73,298.07 253.89,298.80 254.05,299.72 254.21,300.79 254.37,302.03 254.53,303.39 254.69,304.88 254.85,306.47 255.02,308.15 255.18,309.88 255.34,311.65 255.50,313.43 255.66,315.20 255.82,316.93 255.98,318.61 256.14,320.19 256.30,321.65 256.46,322.96 256.62,324.08 256.79,324.98 256.95,325.58 257.11,325.65 257.27,325.24 257.43,324.62 257.59,323.83 257.75,322.90 257.91,321.87 258.07,320.74 258.23,319.55 258.39,318.32 258.56,317.05 258.72,315.77 258.88,314.51 259.04,313.26 259.20,312.06 259.36,310.91 259.52,309.84 259.68,308.85 259.84,307.96 260.00,307.18 260.16,306.51 260.33,305.97 260.49,305.56 260.65,305.29 260.81,305.17 260.97,305.18 261.13,305.35 261.29,305.66 261.45,306.12 261.61,306.71 261.77,307.44 261.93,308.29 262.10,309.25 262.26,310.31 262.42,311.46 262.58,312.68 262.74,313.95 262.90,315.27 263.06,316.61 263.22,317.95 263.38,319.28 263.54,320.58 263.70,321.82 263.86,322.99 264.03,324.06 264.19,325.01 264.35,325.81 264.51,326.42 264.67,326.79 264.83,326.59 264.99,325.91 265.15,324.95 265.31,323.76 265.47,322.40 265.63,320.90 265.80,319.27 265.96,317.56 266.12,315.80 266.28,314.00 266.44,312.19 266.60,310.40 266.76,308.66 266.92,306.97 267.08,305.38 267.24,303.89 267.40,302.53 267.57,301.31 267.73,300.25 267.89,299.36 268.05,298.65 268.21,298.13 268.37,297.81 268.53,297.69 268.69,297.77 268.85,298.04 269.01,298.50 269.17,299.14 269.34,299.95 269.50,300.93 269.66,302.07 269.82,303.34 269.98,304.74 270.14,306.24 270.30,307.83 270.46,309.49 270.62,311.19 270.78,312.92 270.94,314.64 271.11,316.33 271.27,317.98 271.43,319.55 271.59,321.01 271.75,322.34 271.91,323.51 272.07,324.47 272.23,325.18 272.39,325.51 272.55,325.18 272.71,324.56 272.88,323.73 273.04,322.74 273.20,321.61 273.36,320.36 273.52,319.04 273.68,317.65 273.84,316.22 274.00,314.77 274.16,313.32 274.32,311.89 274.48,310.50 274.65,309.17 274.81,307.91 274.97,306.75 275.13,305.69 275.29,304.74 275.45,303.93 275.61,303.26 275.77,302.74 275.93,302.37 276.09,302.16 276.25,302.11 276.42,302.22 276.58,302.48 276.74,302.89 276.90,303.45 277.06,304.15 277.22,304.99 277.38,305.94 277.54,307.00 277.70,308.15 277.86,309.39 278.02,310.69 278.19,312.04 278.35,313.43 278.51,314.82 278.67,316.21 278.83,317.57 278.99,318.88 279.15,320.12 279.31,321.27 279.47,322.31 279.63,323.21 279.79,323.93 279.95,324.43 280.12,324.51 280.28,324.07 280.44,323.35 280.60,322.44 280.76,321.36 280.92,320.14 281.08,318.82 281.24,317.42 281.40,315.96 281.56,314.47 281.72,312.96 281.89,311.46 282.05,309.99 282.21,308.56 282.37,307.20 282.53,305.92 282.69,304.74 282.85,303.67 283.01,302.73 283.17,301.93 283.33,301.28 283.49,300.78 283.66,300.45 283.82,300.28 283.98,300.28 284.14,300.47 284.30,300.84 284.46,301.39 284.62,302.11 284.78,303.00 284.94,304.03 285.10,305.21 285.26,306.52 285.43,307.93 285.59,309.44 285.75,311.01 285.91,312.64 286.07,314.30 286.23,315.97 286.39,317.62 286.55,319.24 286.71,320.78 286.87,322.24 287.03,323.58 287.20,324.78 287.36,325.79 287.52,326.58 287.68,327.07 287.84,326.62 288.00,317.83" fill="none" stroke="#000" stroke-width="1.2" stroke-linejoin="round"/>
<path d="M127.10 331.6v-2.6M127.10 281.0v2.6M135.14 331.6v-1.5M135.14 281.0v1.5M143.19 331.6v-1.5M143.19 281.0v1.5M151.23 331.6v-1.5M151.23 281.0v1.5M159.28 331.6v-1.5M159.28 281.0v1.5M167.32 331.6v-1.5M167.32 281.0v1.5M175.37 331.6v-1.5M175.37 281.0v1.5M183.41 331.6v-1.5M183.41 281.0v1.5M191.46 331.6v-1.5M191.46 281.0v1.5M199.50 331.6v-1.5M199.50 281.0v1.5M207.55 331.6v-2.6M207.55 281.0v2.6M215.59 331.6v-1.5M215.59 281.0v1.5M223.64 331.6v-1.5M223.64 281.0v1.5M231.69 331.6v-1.5M231.69 281.0v1.5M239.73 331.6v-1.5M239.73 281.0v1.5M247.77 331.6v-1.5M247.77 281.0v1.5M255.82 331.6v-1.5M255.82 281.0v1.5M263.87 331.6v-1.5M263.87 281.0v1.5M271.91 331.6v-1.5M271.91 281.0v1.5M279.95 331.6v-1.5M279.95 281.0v1.5M288.00 331.6v-2.6M288.00 281.0v2.6M127.1 326.40h1.5M288.0 326.40h-1.5M127.1 321.40h2.6M288.0 321.40h-2.6M127.1 316.40h1.5M288.0 316.40h-1.5M127.1 311.40h1.5M288.0 311.40h-1.5M127.1 306.40h1.5M288.0 306.40h-1.5M127.1 301.40h2.6M288.0 301.40h-2.6M127.1 296.40h1.5M288.0 296.40h-1.5M127.1 291.40h1.5M288.0 291.40h-1.5M127.1 286.40h1.5M288.0 286.40h-1.5M127.1 281.40h2.6M288.0 281.40h-2.6" stroke="#1a1a1a" stroke-width="0.7" fill="none"/>
<rect x="127.1" y="281.0" width="160.90" height="50.60" fill="none" stroke="#1a1a1a" stroke-width="1"/>
<text x="121.3" y="287.3" text-anchor="end" style="font-family:'Liberation Sans',sans-serif;font-size:16px" fill="#1a1a1a" stroke="#1a1a1a" stroke-width="0.15">-20</text>
<text x="121.3" y="307.4" text-anchor="end" style="font-family:'Liberation Sans',sans-serif;font-size:16px" fill="#1a1a1a" stroke="#1a1a1a" stroke-width="0.15">-40</text>
<text x="121.3" y="327.2" text-anchor="end" style="font-family:'Liberation Sans',sans-serif;font-size:16px" fill="#1a1a1a" stroke="#1a1a1a" stroke-width="0.15">-60</text>
<text x="127.10" y="353.3" text-anchor="middle" style="font-family:'Liberation Sans',sans-serif;font-size:16px" fill="#1a1a1a" stroke="#1a1a1a" stroke-width="0.15">1549</text>
<text x="207.55" y="353.3" text-anchor="middle" style="font-family:'Liberation Sans',sans-serif;font-size:16px" fill="#1a1a1a" stroke="#1a1a1a" stroke-width="0.15">1550</text>
<text x="288.00" y="353.3" text-anchor="middle" style="font-family:'Liberation Sans',sans-serif;font-size:16px" fill="#1a1a1a" stroke="#1a1a1a" stroke-width="0.15">1551</text>
<path d="M86.30 473.25v6.5M86.30 265.8v-6.5M110.22 473.25v3.6M110.22 265.8v-3.6M134.15 473.25v3.6M134.15 265.8v-3.6M158.07 473.25v3.6M158.07 265.8v-3.6M182.00 473.25v6.5M182.00 265.8v-6.5M205.93 473.25v3.6M205.93 265.8v-3.6M229.85 473.25v3.6M229.85 265.8v-3.6M253.78 473.25v3.6M253.78 265.8v-3.6M277.70 473.25v6.5M277.70 265.8v-6.5M301.62 473.25v3.6M301.62 265.8v-3.6M325.55 473.25v3.6M325.55 265.8v-3.6M349.48 473.25v3.6M349.48 265.8v-3.6M373.40 473.25v6.5M373.40 265.8v-6.5M397.32 473.25v3.6M397.32 265.8v-3.6M421.25 473.25v3.6M421.25 265.8v-3.6M445.18 473.25v3.6M445.18 265.8v-3.6M469.10 473.25v6.5M469.10 265.8v-6.5M493.03 473.25v3.6M493.03 265.8v-3.6M516.95 473.25v3.6M516.95 265.8v-3.6M540.88 473.25v3.6M540.88 265.8v-3.6M564.80 473.25v6.5M564.80 265.8v-6.5M588.73 473.25v3.6M588.73 265.8v-3.6M612.65 473.25v3.6M612.65 265.8v-3.6M636.58 473.25v3.6M636.58 265.8v-3.6M660.50 473.25v6.5M660.50 265.8v-6.5M86.3 473.25h-3.6M660.5 473.25h3.6M86.3 461.73h-3.6M660.5 461.73h3.6M86.3 450.20h-6.5M660.5 450.20h6.5M86.3 438.68h-3.6M660.5 438.68h3.6M86.3 427.15h-3.6M660.5 427.15h3.6M86.3 415.62h-3.6M660.5 415.62h3.6M86.3 404.10h-6.5M660.5 404.10h6.5M86.3 392.58h-3.6M660.5 392.58h3.6M86.3 381.05h-3.6M660.5 381.05h3.6M86.3 369.52h-3.6M660.5 369.52h3.6M86.3 358.00h-6.5M660.5 358.00h6.5M86.3 346.48h-3.6M660.5 346.48h3.6M86.3 334.95h-3.6M660.5 334.95h3.6M86.3 323.43h-3.6M660.5 323.43h3.6M86.3 311.90h-6.5M660.5 311.90h6.5M86.3 300.38h-3.6M660.5 300.38h3.6M86.3 288.85h-3.6M660.5 288.85h3.6M86.3 277.32h-3.6M660.5 277.32h3.6M86.3 265.80h-6.5M660.5 265.80h6.5" stroke="#1a1a1a" stroke-width="1.25" fill="none"/>
<rect x="86.3" y="265.8" width="574.20" height="207.45" fill="none" stroke="#1a1a1a" stroke-width="1.3"/>
<text x="86.30" y="506.45" text-anchor="middle" style="font-family:'Liberation Sans',sans-serif;font-size:22px" fill="#1a1a1a" stroke="#1a1a1a" stroke-width="0.25">1544</text>
<text x="182.00" y="506.45" text-anchor="middle" style="font-family:'Liberation Sans',sans-serif;font-size:22px" fill="#1a1a1a" stroke="#1a1a1a" stroke-width="0.25">1546</text>
<text x="277.70" y="506.45" text-anchor="middle" style="font-family:'Liberation Sans',sans-serif;font-size:22px" fill="#1a1a1a" stroke="#1a1a1a" stroke-width="0.25">1548</text>
<text x="373.40" y="506.45" text-anchor="middle" style="font-family:'Liberation Sans',sans-serif;font-size:22px" fill="#1a1a1a" stroke="#1a1a1a" stroke-width="0.25">1550</text>
<text x="469.10" y="506.45" text-anchor="middle" style="font-family:'Liberation Sans',sans-serif;font-size:22px" fill="#1a1a1a" stroke="#1a1a1a" stroke-width="0.25">1552</text>
<text x="564.80" y="506.45" text-anchor="middle" style="font-family:'Liberation Sans',sans-serif;font-size:22px" fill="#1a1a1a" stroke="#1a1a1a" stroke-width="0.25">1554</text>
<text x="660.50" y="506.45" text-anchor="middle" style="font-family:'Liberation Sans',sans-serif;font-size:22px" fill="#1a1a1a" stroke="#1a1a1a" stroke-width="0.25">1556</text>
<text x="73.00" y="273.40" text-anchor="end" style="font-family:'Liberation Sans',sans-serif;font-size:22px" fill="#1a1a1a" stroke="#1a1a1a" stroke-width="0.25">0</text>
<text x="73.00" y="319.50" text-anchor="end" style="font-family:'Liberation Sans',sans-serif;font-size:22px" fill="#1a1a1a" stroke="#1a1a1a" stroke-width="0.25">-20</text>
<text x="73.00" y="365.60" text-anchor="end" style="font-family:'Liberation Sans',sans-serif;font-size:22px" fill="#1a1a1a" stroke="#1a1a1a" stroke-width="0.25">-40</text>
<text x="73.00" y="411.70" text-anchor="end" style="font-family:'Liberation Sans',sans-serif;font-size:22px" fill="#1a1a1a" stroke="#1a1a1a" stroke-width="0.25">-60</text>
<text x="73.00" y="457.80" text-anchor="end" style="font-family:'Liberation Sans',sans-serif;font-size:22px" fill="#1a1a1a" stroke="#1a1a1a" stroke-width="0.25">-80</text>
<text transform="translate(20.5,366) rotate(-90)" text-anchor="middle" fill="#1a1a1a" style="font-family:'Liberation Sans',sans-serif;font-size:20.9px"><tspan style="font-family:'Liberation Serif',serif;font-style:italic;font-size:21.5px">P</tspan><tspan dy="6" dx="0.3" style="font-size:13.5px" stroke="#1a1a1a" stroke-width="0.45">o</tspan><tspan dy="-6" dx="-0.2"> [dBm]</tspan></text>
<text x="577.5" y="289.1" text-anchor="middle" style="font-family:'Liberation Serif',serif;font-size:17.8px" fill="#1a1a1a" stroke="#1a1a1a" stroke-width="0.3" textLength="103" lengthAdjust="spacingAndGlyphs"><tspan font-style="italic">P</tspan><tspan dy="3.6" style="font-size:12.8px">m</tspan><tspan dy="-3.6"> = 28 </tspan><tspan font-style="italic">dBm</tspan></text>
<text x="580.6" y="310.9" text-anchor="middle" style="font-family:'Liberation Serif',serif;font-size:17.8px" fill="#1a1a1a" stroke="#1a1a1a" stroke-width="0.3" textLength="120.7" lengthAdjust="spacingAndGlyphs"><tspan font-style="italic">P</tspan><tspan dy="3.6" style="font-size:12.8px">chip</tspan><tspan dy="-3.6"> = 0.2 </tspan><tspan font-style="italic">mW</tspan></text>
<text x="579.2" y="332.5" text-anchor="middle" style="font-family:'Liberation Serif',serif;font-size:17.8px" fill="#1a1a1a" stroke="#1a1a1a" stroke-width="0.3" textLength="131" lengthAdjust="spacingAndGlyphs"><tspan font-style="italic">f</tspan><tspan dy="3.6" style="font-size:12.8px">m</tspan><tspan dy="-3.6"> = 11.908 </tspan><tspan font-style="italic">GHz</tspan></text>
<line x1="180.88" x2="180.88" y1="518.45" y2="726.6" stroke="#d9d9d9" stroke-width="1"/>
<line x1="276.57" x2="276.57" y1="518.45" y2="726.6" stroke="#d9d9d9" stroke-width="1"/>
<line x1="372.25" x2="372.25" y1="518.45" y2="726.6" stroke="#d9d9d9" stroke-width="1"/>
<line x1="467.93" x2="467.93" y1="518.45" y2="726.6" stroke="#d9d9d9" stroke-width="1"/>
<line x1="563.62" x2="563.62" y1="518.45" y2="726.6" stroke="#d9d9d9" stroke-width="1"/>
<line x1="85.2" x2="659.3" y1="564.71" y2="564.71" stroke="#d9d9d9" stroke-width="1"/>
<line x1="85.2" x2="659.3" y1="610.96" y2="610.96" stroke="#d9d9d9" stroke-width="1"/>
<line x1="85.2" x2="659.3" y1="657.22" y2="657.22" stroke="#d9d9d9" stroke-width="1"/>
<line x1="85.2" x2="659.3" y1="703.47" y2="703.47" stroke="#d9d9d9" stroke-width="1"/>
<clipPath id="cc"><rect x="85.2" y="518.45" width="574.10" height="208.15"/></clipPath>
<g clip-path="url(#cc)" fill="none" stroke-width="0.78" stroke-linejoin="round">
<polyline points="108.64,714.50 109.09,723.16 109.55,713.80 110.01,723.40 110.46,711.93 110.92,724.65 111.38,714.52 111.83,721.66 112.29,711.67 112.75,722.83 113.20,716.42 113.66,723.82 114.12,713.15 114.57,723.63 115.03,713.55 115.48,725.38 115.94,714.14 116.40,721.82 116.85,710.23 117.31,722.01 117.77,714.91 118.22,719.80 118.68,713.76 119.14,724.58 119.59,716.57 120.05,719.30 120.51,716.28 120.96,722.79 121.42,715.28 121.87,720.27 122.33,711.50 122.79,725.67 123.24,713.82 123.70,722.50 124.16,715.68 124.61,721.79 125.07,713.58 125.53,725.67 125.98,710.91 126.44,722.10 126.89,715.01 127.35,720.99 127.81,713.82 128.26,724.87 128.72,715.03 129.18,721.04 129.63,714.25 130.09,722.16 130.55,711.82 131.00,720.97 131.46,715.81 131.92,723.79 132.37,711.83 132.83,725.41 133.28,712.23 133.74,724.15 134.20,708.89 134.65,722.69 135.11,713.62 135.57,725.67 136.02,705.45 136.48,722.23 136.94,709.04 137.39,722.87 137.85,702.77 138.31,723.28 138.76,708.00 139.22,725.67 139.67,703.68 140.13,725.28 140.59,707.04 141.04,723.07 141.50,694.31 141.96,724.08 142.41,699.76 142.87,721.80 143.33,695.01 143.78,724.11 144.24,701.64 144.69,723.30 145.15,684.01 145.61,720.73 146.06,692.82 146.52,720.68 146.98,679.30 147.43,722.84 147.89,699.10 148.35,719.33 148.80,678.77 149.26,722.19 149.72,682.61 150.17,719.85 150.63,667.87 151.08,720.24 151.54,675.36 152.00,715.95 152.45,673.17 152.91,716.83 153.37,674.28 153.82,710.45 154.28,657.24 154.74,714.52 155.19,664.17 155.65,709.83 156.11,649.93 156.56,707.92 157.02,658.91 157.47,709.65 157.93,645.83 158.39,715.28 158.84,653.37 159.30,704.12 159.76,643.49 160.21,705.95 160.67,645.53 161.13,702.78 161.58,639.34 162.04,704.94 162.49,639.69 162.95,683.99 163.41,634.54 163.86,691.08 164.32,636.30 164.78,680.20 165.23,625.59 165.69,692.31 166.15,627.54 166.60,687.81 167.06,626.13 167.52,676.44 167.97,624.02 168.43,678.37 168.88,610.97 169.34,674.78 169.80,626.62 170.25,666.70 170.71,607.47 171.17,667.03 171.62,613.73 172.08,658.03 172.54,603.61 172.99,673.34 173.45,605.02 173.91,664.97 174.36,594.88 174.82,654.85 175.27,599.96 175.73,655.00 176.19,593.60 176.64,650.26 177.10,601.56 177.56,654.74 178.01,551.52 178.47,646.29 178.93,594.41 179.38,639.40 179.84,587.74 180.29,649.85 180.75,599.05 181.21,648.70 181.66,594.92 182.12,655.71 182.58,605.83 183.03,657.64 183.49,604.58 183.95,673.82 184.40,611.27 184.86,666.86 185.32,616.86 185.77,674.51 186.23,630.40 186.68,660.04 187.14,620.11 187.60,674.04 188.05,625.42 188.51,679.97 188.97,623.07 189.42,680.41 189.88,625.91 190.34,678.46 190.79,621.47 191.25,681.84 191.71,634.16 192.16,674.65 192.62,633.72 193.07,690.68 193.53,635.69 193.99,679.17 194.44,635.20 194.90,696.71 195.36,646.40 195.81,697.67 196.27,645.07 196.73,705.37 197.18,660.01 197.64,695.35 198.09,640.54 198.55,709.13 199.01,653.65 199.46,695.41 199.92,654.73 200.38,707.49 200.83,657.89 201.29,707.63 201.75,657.43 202.20,707.94 202.66,660.75 203.12,707.77 203.57,664.59 204.03,721.45 204.48,666.96 204.94,716.52 205.40,661.22 205.85,718.20 206.31,675.69 206.77,717.41 207.22,672.06 207.68,722.67 208.14,678.12 208.59,722.54 209.05,677.83 209.51,721.61 209.96,681.63 210.42,720.27 210.87,678.19 211.33,719.41 211.79,686.12 212.24,723.63 212.70,683.34 213.16,722.47 213.61,693.03 214.07,725.20 214.53,691.59 214.98,725.67 215.44,700.31 215.89,718.77 216.35,691.53 216.81,723.84 217.26,701.21 217.72,720.56 218.18,694.77 218.63,721.78 219.09,710.80 219.55,722.78 220.00,698.37 220.46,720.53 220.92,712.08 221.37,719.23 221.83,708.53 222.28,723.89 222.74,712.78 223.20,722.81 223.65,709.06 224.11,725.62 224.57,709.89 225.02,722.56 225.48,709.29 225.94,722.05 226.39,711.61 226.85,724.09 227.31,713.18 227.76,723.83 228.22,713.42 228.67,724.45 229.13,711.20 229.59,723.55 230.04,711.91 230.50,720.87 230.96,713.37 231.41,723.54 231.87,712.31 232.33,723.46 232.78,710.09 233.24,725.07 233.69,715.52 234.15,722.13 234.61,712.85 235.06,722.50 235.52,713.85 235.98,723.94 236.43,714.39 236.89,719.86 237.35,715.83 237.80,725.67 238.26,715.43 238.72,720.68 239.17,714.25 239.63,722.17 240.08,712.78 240.54,725.57 241.00,714.69 241.45,721.98 241.91,713.97 242.37,719.83 242.82,713.96 243.28,720.80 243.74,713.45 244.19,722.09 244.65,718.89 245.11,720.39 245.56,716.02 246.02,725.43 246.47,715.52 246.93,722.71 247.39,715.06 247.84,725.65 248.30,713.29 248.76,723.64 249.21,712.82 249.67,723.05 250.13,713.09 250.58,723.08 251.04,713.74 251.49,722.88 251.95,715.78 252.41,723.75" stroke="#2d84ab"/>
<polyline points="205.03,713.37 205.48,721.95 205.94,713.95 206.40,718.30 206.85,714.97 207.31,725.67 207.77,712.92 208.22,725.22 208.68,713.43 209.14,718.84 209.59,709.38 210.05,721.41 210.50,713.42 210.96,721.11 211.42,716.09 211.87,721.48 212.33,709.01 212.79,721.40 213.24,717.31 213.70,720.62 214.16,709.89 214.61,723.82 215.07,714.93 215.53,722.08 215.98,710.43 216.44,719.04 216.89,713.37 217.35,721.36 217.81,712.05 218.26,723.01 218.72,712.55 219.18,721.53 219.63,713.34 220.09,719.57 220.55,711.31 221.00,722.14 221.46,713.94 221.92,722.09 222.37,710.88 222.83,720.70 223.28,714.09 223.74,719.96 224.20,710.71 224.65,718.66 225.11,712.47 225.57,721.98 226.02,709.88 226.48,720.97 226.94,708.05 227.39,719.50 227.85,710.56 228.30,725.62 228.76,709.27 229.22,721.32 229.67,707.33 230.13,720.68 230.59,707.84 231.04,721.64 231.50,700.10 231.96,723.38 232.41,708.16 232.87,720.24 233.33,698.24 233.78,719.09 234.24,703.58 234.69,721.67 235.15,694.75 235.61,722.47 236.06,703.20 236.52,721.72 236.98,687.34 237.43,718.09 237.89,693.16 238.35,718.39 238.80,685.12 239.26,721.29 239.72,688.67 240.17,723.13 240.63,680.31 241.08,722.39 241.54,683.94 242.00,719.52 242.45,677.17 242.91,721.44 243.37,679.86 243.82,717.12 244.28,672.04 244.74,720.80 245.19,684.02 245.65,714.11 246.10,670.79 246.56,718.90 247.02,675.18 247.47,712.44 247.93,665.33 248.39,714.54 248.84,665.19 249.30,707.50 249.76,655.28 250.21,712.41 250.67,661.28 251.13,715.27 251.58,655.32 252.04,708.58 252.49,667.09 252.95,708.98 253.41,650.09 253.86,705.33 254.32,655.64 254.78,707.61 255.23,647.49 255.69,703.09 256.15,649.11 256.60,698.37 257.06,636.33 257.52,706.14 257.97,641.80 258.43,686.82 258.88,635.24 259.34,695.83 259.80,639.62 260.25,695.77 260.71,626.48 261.17,689.49 261.62,634.78 262.08,685.51 262.54,624.11 262.99,695.56 263.45,629.95 263.90,683.30 264.36,620.60 264.82,691.36 265.27,622.70 265.73,676.15 266.19,617.86 266.64,682.64 267.10,617.82 267.56,662.99 268.01,609.17 268.47,682.57 268.93,620.92 269.38,664.45 269.84,606.88 270.29,670.97 270.75,610.99 271.21,661.67 271.66,603.97 272.12,662.47 272.58,604.14 273.03,664.33 273.49,599.73 273.95,663.69 274.40,601.06 274.86,652.21 275.32,594.31 275.77,650.24 276.23,595.26 276.68,650.98 277.14,549.67 277.60,653.98 278.05,600.63 278.51,654.62 278.97,597.47 279.42,657.25 279.88,609.60 280.34,648.39 280.79,596.53 281.25,662.70 281.70,611.69 282.16,649.76 282.62,597.67 283.07,660.30 283.53,610.60 283.99,661.62 284.44,606.05 284.90,671.92 285.36,614.10 285.81,672.87 286.27,607.34 286.73,666.00 287.18,623.53 287.64,675.82 288.09,614.62 288.55,676.77 289.01,622.49 289.46,665.69 289.92,618.69 290.38,681.08 290.83,629.23 291.29,679.96 291.75,621.09 292.20,685.05 292.66,635.93 293.12,680.16 293.57,624.59 294.03,696.45 294.48,635.64 294.94,685.81 295.40,632.81 295.85,702.10 296.31,646.90 296.77,687.32 297.22,634.78 297.68,693.51 298.14,649.87 298.59,695.10 299.05,643.58 299.50,707.76 299.96,652.51 300.42,697.49 300.87,654.40 301.33,703.91 301.79,658.25 302.24,704.01 302.70,647.76 303.16,712.80 303.61,660.35 304.07,707.96 304.53,658.37 304.98,715.86 305.44,668.84 305.89,709.46 306.35,658.99 306.81,718.06 307.26,669.60 307.72,714.03 308.18,665.91 308.63,714.66 309.09,671.24 309.55,717.59 310.00,664.68 310.46,715.49 310.92,680.04 311.37,717.17 311.83,672.81 312.28,718.47 312.74,688.62 313.20,720.22 313.65,673.69 314.11,720.21 314.57,683.85 315.02,719.89 315.48,681.05 315.94,720.44 316.39,690.77 316.85,719.58 317.30,683.53 317.76,721.89 318.22,696.89 318.67,716.65 319.13,694.49 319.59,722.14 320.04,697.08 320.50,720.76 320.96,695.10 321.41,721.83 321.87,704.73 322.33,725.67 322.78,702.90 323.24,719.57 323.69,706.52 324.15,721.05 324.61,702.15 325.06,724.27 325.52,707.43 325.98,722.99 326.43,701.23 326.89,724.94 327.35,709.00 327.80,720.95 328.26,706.05 328.72,718.38 329.17,709.02 329.63,719.11 330.08,707.33 330.54,724.30 331.00,712.06 331.45,725.22 331.91,710.17 332.37,720.56 332.82,709.90 333.28,718.14 333.74,714.46 334.19,721.56 334.65,711.98 335.10,719.48 335.56,712.53 336.02,724.57 336.47,713.75 336.93,721.89 337.39,710.85 337.84,720.76 338.30,712.35 338.76,722.52 339.21,706.57 339.67,722.15 340.13,713.51 340.58,720.25 341.04,711.98 341.49,722.98 341.95,715.96 342.41,723.75 342.86,710.79 343.32,720.13 343.78,714.33 344.23,721.18 344.69,712.49 345.15,723.76 345.60,710.45 346.06,720.79 346.52,710.61 346.97,722.86 347.43,712.12" stroke="#1fa25c"/>
<polyline points="395.82,717.36 396.28,719.19 396.73,710.66 397.19,724.02 397.65,714.71 398.10,725.67 398.56,719.41 399.02,722.76 399.47,720.03 399.93,720.15 400.38,718.22 400.84,724.78 401.30,717.69 401.75,725.67 402.21,714.31 402.67,725.67 403.12,719.50 403.58,725.67 404.04,718.66 404.49,719.61 404.95,719.58 405.41,725.67 405.86,715.93 406.32,725.67 406.77,721.47 407.23,725.67 407.69,715.06 408.14,724.38 408.60,719.31 409.06,725.67 409.51,717.22 409.97,723.34 410.43,715.42 410.88,723.32 411.34,715.46 411.79,724.95 412.25,707.77 412.71,725.67 413.16,718.56 413.62,725.67 414.08,722.56 414.53,725.67 414.99,718.90 415.45,723.18 415.90,713.59 416.36,725.67 416.82,716.74 417.27,725.67 417.73,712.85 418.18,725.32 418.64,713.11 419.10,723.61 419.55,713.16 420.01,724.02 420.47,714.49 420.92,723.20 421.38,710.38 421.84,721.38 422.29,710.31 422.75,725.67 423.21,714.04 423.66,724.57 424.12,706.39 424.57,724.39 425.03,704.07 425.49,725.67 425.94,705.68 426.40,721.69 426.86,710.85 427.31,725.67 427.77,700.23 428.23,724.34 428.68,702.31 429.14,724.13 429.59,690.58 430.05,725.67 430.51,700.80 430.96,722.34 431.42,693.58 431.88,721.90 432.33,699.99 432.79,723.91 433.25,684.46 433.70,725.67 434.16,687.38 434.62,720.16 435.07,676.02 435.53,724.77 435.98,694.34 436.44,725.43 436.90,675.32 437.35,725.67 437.81,686.05 438.27,724.16 438.72,666.37 439.18,722.32 439.64,680.71 440.09,720.26 440.55,671.39 441.01,723.53 441.46,667.16 441.92,713.03 442.37,655.81 442.83,721.86 443.29,667.03 443.74,708.82 444.20,660.52 444.66,709.31 445.11,662.16 445.57,713.05 446.03,645.55 446.48,707.42 446.94,652.16 447.39,701.56 447.85,642.98 448.31,706.59 448.76,650.84 449.22,692.29 449.68,636.25 450.13,703.36 450.59,639.68 451.05,691.96 451.50,631.75 451.96,690.55 452.42,634.52 452.87,686.61 453.33,627.45 453.78,695.87 454.24,633.76 454.70,691.08 455.15,627.98 455.61,689.92 456.07,633.02 456.52,686.43 456.98,613.46 457.44,684.78 457.89,620.75 458.35,671.57 458.81,619.42 459.26,679.69 459.72,629.15 460.17,670.38 460.63,607.81 461.09,677.95 461.54,609.86 462.00,662.62 462.46,600.80 462.91,672.60 463.37,613.38 463.83,652.83 464.28,600.17 464.74,658.66 465.19,599.79 465.65,651.31 466.11,588.11 466.56,652.59 467.02,593.87 467.48,643.85 467.93,551.52 468.39,648.92 468.85,594.32 469.30,651.99 469.76,594.36 470.22,656.81 470.67,599.07 471.13,648.59 471.58,595.04 472.04,655.87 472.50,608.64 472.95,665.29 473.41,608.79 473.87,672.38 474.32,616.50 474.78,667.95 475.24,607.01 475.69,667.39 476.15,622.23 476.61,662.41 477.06,613.19 477.52,677.25 477.97,630.38 478.43,668.22 478.89,617.55 479.34,680.97 479.80,633.26 480.26,690.21 480.71,622.91 481.17,690.67 481.63,640.47 482.08,691.84 482.54,631.62 482.99,703.12 483.45,641.78 483.91,693.36 484.36,639.37 484.82,706.99 485.28,646.30 485.73,700.23 486.19,640.55 486.65,706.75 487.10,653.37 487.56,708.51 488.02,651.43 488.47,707.56 488.93,666.00 489.38,705.33 489.84,652.26 490.30,715.02 490.75,661.78 491.21,710.41 491.67,657.45 492.12,715.19 492.58,669.68 493.04,720.09 493.49,664.75 493.95,721.71 494.41,681.08 494.86,719.80 495.32,673.82 495.77,720.59 496.23,690.08 496.69,722.68 497.14,680.20 497.60,719.84 498.06,686.10 498.51,723.80 498.97,691.98 499.43,725.67 499.88,690.66 500.34,723.64 500.79,692.45 501.25,722.92 501.71,702.33 502.16,725.67 502.62,692.17 503.08,725.67 503.53,706.71 503.99,722.58 504.45,695.80 504.90,721.73 505.36,708.88 505.82,722.66 506.27,703.83 506.73,724.85 507.18,710.43 507.64,725.11 508.10,706.25 508.55,719.88 509.01,715.11 509.47,722.56 509.92,707.95 510.38,725.67 510.84,714.07 511.29,725.67 511.75,714.08 512.21,723.17 512.66,711.79 513.12,722.83 513.57,714.13 514.03,725.67 514.49,713.79 514.94,725.67 515.40,719.27 515.86,722.08 516.31,718.03 516.77,725.67 517.23,709.73 517.68,722.50 518.14,714.89 518.59,725.67 519.05,714.93 519.51,725.67 519.96,718.97 520.42,725.67 520.88,716.96 521.33,725.30 521.79,715.60 522.25,725.67 522.70,716.93 523.16,725.67 523.62,717.17 524.07,724.70 524.53,722.32 524.98,725.67 525.44,719.44 525.90,725.67 526.35,718.28 526.81,720.69 527.27,715.06 527.72,722.07 528.18,715.20 528.64,723.61 529.09,716.93 529.55,725.67 530.01,719.22 530.46,725.67 530.92,719.23 531.37,725.67 531.83,716.10 532.29,725.67 532.74,721.27 533.20,721.15 533.66,717.63 534.11,725.67 534.57,717.93 535.03,725.67 535.48,717.74 535.94,725.24 536.39,711.58 536.85,723.95 537.31,717.40 537.76,721.72 538.22,714.16 538.68,720.92" stroke="#d3861f"/>
<polyline points="491.22,717.11 491.67,725.67 492.13,713.60 492.59,722.71 493.04,715.89 493.50,724.60 493.96,712.98 494.41,724.72 494.87,717.71 495.32,724.11 495.78,716.34 496.24,724.28 496.69,717.41 497.15,723.48 497.61,716.32 498.06,722.56 498.52,717.89 498.98,724.64 499.43,717.95 499.89,725.51 500.35,713.80 500.80,725.67 501.26,718.89 501.71,720.69 502.17,717.11 502.63,723.68 503.08,714.24 503.54,725.31 504.00,711.78 504.45,725.67 504.91,712.70 505.37,723.31 505.82,714.48 506.28,725.67 506.73,716.92 507.19,724.01 507.65,716.28 508.10,725.54 508.56,714.32 509.02,722.11 509.47,716.42 509.93,725.67 510.39,720.28 510.84,725.67 511.30,716.19 511.76,725.67 512.21,717.08 512.67,725.67 513.12,722.64 513.58,721.00 514.04,716.75 514.49,724.11 514.95,717.69 515.41,725.67 515.86,715.62 516.32,722.12 516.78,716.22 517.23,725.67 517.69,713.48 518.15,722.52 518.60,713.64 519.06,725.67 519.51,717.46 519.97,725.67 520.43,719.52 520.88,722.83 521.34,716.35 521.80,725.67 522.25,713.07 522.71,722.35 523.17,716.04 523.62,724.88 524.08,715.99 524.53,720.52 524.99,714.89 525.45,725.67 525.90,716.07 526.36,725.45 526.82,715.50 527.27,721.21 527.73,715.48 528.19,725.67 528.64,711.52 529.10,724.35 529.56,716.29 530.01,725.67 530.47,705.86 530.92,722.59 531.38,712.08 531.84,724.69 532.29,707.25 532.75,725.67 533.21,708.45 533.66,724.55 534.12,701.95 534.58,725.67 535.03,699.02 535.49,722.42 535.95,697.33 536.40,725.67 536.86,691.77 537.31,718.78 537.77,678.76 538.23,718.78 538.68,681.61 539.14,725.67 539.60,683.83 540.05,721.64 540.51,689.66 540.97,721.97 541.42,661.14 541.88,722.37 542.33,666.70 542.79,714.51 543.25,664.41 543.70,717.82 544.16,657.55 544.62,711.16 545.07,647.15 545.53,715.45 545.99,651.69 546.44,707.83 546.90,640.71 547.36,700.83 547.81,644.04 548.27,693.34 548.72,626.87 549.18,697.32 549.64,637.41 550.09,692.79 550.55,626.13 551.01,688.00 551.46,623.72 551.92,683.81 552.38,611.93 552.83,685.05 553.29,620.03 553.75,663.08 554.20,610.32 554.66,682.15 555.11,612.27 555.57,669.75 556.03,594.12 556.48,663.84 556.94,604.62 557.40,661.33 557.85,590.90 558.31,663.03 558.77,591.55 559.22,644.10 559.68,586.83 560.13,650.14 560.59,585.90 561.05,634.08 561.50,569.98 561.96,634.21 562.42,571.56 562.87,619.85 563.33,557.54 563.79,630.45 564.24,577.22 564.70,630.36 565.16,584.26 565.61,650.87 566.07,586.13 566.52,641.62 566.98,587.81 567.44,656.30 567.89,603.67 568.35,656.02 568.81,599.84 569.26,668.98 569.72,613.80 570.18,661.59 570.63,609.12 571.09,682.10 571.54,624.10 572.00,684.96 572.46,630.51 572.91,693.23 573.37,635.38 573.83,687.79 574.28,633.92 574.74,702.88 575.20,650.81 575.65,699.32 576.11,647.05 576.57,709.95 577.02,666.03 577.48,712.72 577.93,658.66 578.39,720.22 578.85,672.98 579.30,718.31 579.76,675.51 580.22,725.06 580.67,688.76 581.13,721.62 581.59,684.17 582.04,725.08 582.50,703.80 582.96,725.67 583.41,695.87 583.87,725.16 584.32,706.88 584.78,722.18 585.24,705.95 585.69,723.16 586.15,713.96 586.61,723.53 587.06,718.13 587.52,722.55 587.98,719.10 588.43,723.29 588.89,716.58 589.34,723.73 589.80,714.59 590.26,725.05 590.71,716.01 591.17,724.18 591.63,715.67 592.08,725.47 592.54,717.62 593.00,725.67 593.45,715.39 593.91,725.67 594.37,719.48 594.82,720.84 595.28,715.19 595.73,723.19 596.19,719.12 596.65,722.67 597.10,715.87 597.56,724.51 598.02,713.32 598.47,723.99 598.93,714.52 599.39,725.67 599.84,714.42 600.30,725.67 600.76,715.04 601.21,722.49 601.67,722.12 602.12,720.33 602.58,718.22 603.04,725.67 603.49,714.80 603.95,725.67 604.41,716.92 604.86,725.67 605.32,718.27 605.78,725.67 606.23,715.42 606.69,725.67 607.14,713.97 607.60,725.67 608.06,718.14 608.51,725.67 608.97,715.19 609.43,724.25 609.88,715.93 610.34,725.67 610.80,715.04 611.25,721.85 611.71,712.67 612.17,723.27 612.62,716.77 613.08,725.67 613.53,714.08 613.99,725.67 614.45,712.42 614.90,725.67 615.36,719.63 615.82,724.83 616.27,716.48 616.73,721.24 617.19,717.62 617.64,722.27 618.10,715.04 618.56,722.78 619.01,717.96 619.47,725.67 619.92,717.07 620.38,725.05 620.84,714.70 621.29,723.28 621.75,716.66 622.21,723.99 622.66,719.09 623.12,724.07 623.58,718.01 624.03,725.20 624.49,718.33 624.94,725.64 625.40,719.22 625.86,724.92 626.31,714.53 626.77,724.34 627.23,713.04 627.68,724.88 628.14,718.76 628.60,722.24 629.05,711.55 629.51,725.67 629.97,715.36 630.42,719.99 630.88,720.42 631.33,723.52 631.79,720.54 632.25,725.04 632.70,719.32 633.16,722.63 633.62,714.02 634.07,723.50 634.53,720.07 634.99,725.67" stroke="#d2392f"/>
<polyline points="300.28,713.02 300.74,723.18 301.20,713.74 301.65,725.67 302.11,715.83 302.57,720.88 303.02,719.66 303.48,720.61 303.94,719.62 304.39,721.55 304.85,712.92 305.31,722.51 305.76,714.13 306.22,723.79 306.67,710.86 307.13,720.18 307.59,716.64 308.04,725.00 308.50,715.52 308.96,720.67 309.41,717.75 309.87,725.56 310.33,710.05 310.78,725.24 311.24,720.15 311.69,725.44 312.15,712.92 312.61,725.67 313.06,709.82 313.52,725.58 313.98,716.54 314.43,721.58 314.89,717.09 315.35,719.01 315.80,717.70 316.26,725.67 316.72,713.67 317.17,725.67 317.63,712.49 318.08,720.00 318.54,707.17 319.00,725.07 319.45,715.52 319.91,723.04 320.37,709.57 320.82,723.52 321.28,705.15 321.74,720.95 322.19,702.62 322.65,725.67 323.11,707.15 323.56,720.29 324.02,703.92 324.47,721.42 324.93,702.65 325.39,725.67 325.84,696.33 326.30,724.45 326.76,699.77 327.21,724.70 327.67,695.65 328.13,722.65 328.58,696.88 329.04,723.57 329.49,689.40 329.95,725.67 330.41,696.10 330.86,724.39 331.32,689.62 331.78,721.94 332.23,696.12 332.69,723.07 333.15,676.85 333.60,723.29 334.06,685.64 334.52,714.87 334.97,679.29 335.43,720.63 335.88,679.50 336.34,720.99 336.80,674.40 337.25,720.31 337.71,674.66 338.17,720.22 338.62,671.39 339.08,720.96 339.54,673.72 339.99,718.64 340.45,664.44 340.91,723.63 341.36,671.72 341.82,711.97 342.27,657.96 342.73,716.53 343.19,667.52 343.64,715.47 344.10,658.06 344.56,713.72 345.01,658.13 345.47,709.99 345.93,654.31 346.38,712.06 346.84,653.18 347.29,709.46 347.75,648.51 348.21,712.67 348.66,649.90 349.12,700.89 349.58,648.88 350.03,698.60 350.49,643.20 350.95,703.82 351.40,639.35 351.86,698.41 352.32,651.94 352.77,697.71 353.23,633.08 353.68,704.85 354.14,639.53 354.60,687.88 355.05,632.82 355.51,688.27 355.97,630.42 356.42,684.02 356.88,625.51 357.34,684.71 357.79,626.02 358.25,676.03 358.71,617.30 359.16,693.27 359.62,621.73 360.07,682.87 360.53,611.04 360.99,676.56 361.44,623.32 361.90,672.90 362.36,605.56 362.81,677.00 363.27,617.37 363.73,660.23 364.18,601.82 364.64,681.10 365.09,612.97 365.55,657.69 366.01,598.96 366.46,660.61 366.92,611.01 367.38,666.48 367.83,593.87 368.29,665.48 368.75,598.54 369.20,663.39 369.66,588.73 370.12,651.37 370.57,599.88 371.03,647.53 371.48,553.37 371.94,658.29 372.40,595.95 372.85,649.14 373.31,595.16 373.77,667.56 374.22,604.61 374.68,647.77 375.14,593.75 375.59,668.10 376.05,612.71 376.51,659.65 376.96,607.78 377.42,662.10 377.87,606.50 378.33,661.02 378.79,609.41 379.24,668.69 379.70,613.37 380.16,673.42 380.61,607.71 381.07,674.58 381.53,623.76 381.98,675.77 382.44,609.68 382.89,686.39 383.35,624.30 383.81,684.33 384.26,620.47 384.72,682.97 385.18,625.20 385.63,679.37 386.09,624.57 386.55,696.93 387.00,639.39 387.46,678.87 387.92,628.02 388.37,691.03 388.83,637.85 389.28,696.52 389.74,635.73 390.20,694.79 390.65,645.49 391.11,692.75 391.57,631.55 392.02,694.99 392.48,643.72 392.94,702.61 393.39,636.24 393.85,703.29 394.31,650.22 394.76,700.95 395.22,643.27 395.67,703.27 396.13,653.86 396.59,699.64 397.04,648.82 397.50,709.75 397.96,657.82 398.41,707.92 398.87,655.86 399.33,712.67 399.78,659.96 400.24,712.00 400.69,656.69 401.15,717.70 401.61,674.32 402.06,717.76 402.52,658.37 402.98,716.84 403.43,669.04 403.89,719.50 404.35,662.70 404.80,721.99 405.26,680.97 405.72,722.34 406.17,669.66 406.63,725.67 407.08,678.25 407.54,724.51 408.00,684.31 408.45,721.92 408.91,685.83 409.37,722.48 409.82,679.94 410.28,720.22 410.74,690.60 411.19,725.67 411.65,682.07 412.10,725.67 412.56,692.99 413.02,721.63 413.47,686.17 413.93,725.67 414.39,697.77 414.84,724.57 415.30,689.88 415.76,724.01 416.21,702.56 416.67,725.67 417.13,696.43 417.58,725.67 418.04,701.55 418.49,723.17 418.95,700.56 419.41,725.67 419.86,707.34 420.32,722.19 420.78,704.42 421.23,725.67 421.69,710.80 422.15,721.69 422.60,707.09 423.06,723.28 423.52,708.51 423.97,723.48 424.43,706.15 424.88,722.72 425.34,717.56 425.80,723.84 426.25,711.55 426.71,725.67 427.17,715.60 427.62,721.66 428.08,708.14 428.54,723.91 428.99,710.52 429.45,722.81 429.90,712.00 430.36,724.74 430.82,716.24 431.27,725.13 431.73,709.08 432.19,721.35 432.64,712.39 433.10,721.29 433.56,711.15 434.01,723.56 434.47,713.67 434.93,725.67 435.38,716.09 435.84,725.67 436.29,712.93 436.75,725.67 437.21,718.09 437.66,720.69 438.12,713.10 438.58,722.63 439.03,714.88 439.49,724.01 439.95,720.86 440.40,724.68 440.86,713.93 441.32,725.67 441.77,715.86 442.23,721.55 442.68,716.87 443.14,725.67 443.60,716.01" stroke="#111111"/>
</g>
<path d="M85.20 726.6v6.5M85.20 518.45v-6.5M104.34 726.6v3.6M104.34 518.45v-3.6M123.47 726.6v3.6M123.47 518.45v-3.6M142.61 726.6v3.6M142.61 518.45v-3.6M161.75 726.6v3.6M161.75 518.45v-3.6M180.88 726.6v6.5M180.88 518.45v-6.5M200.02 726.6v3.6M200.02 518.45v-3.6M219.16 726.6v3.6M219.16 518.45v-3.6M238.29 726.6v3.6M238.29 518.45v-3.6M257.43 726.6v3.6M257.43 518.45v-3.6M276.57 726.6v6.5M276.57 518.45v-6.5M295.70 726.6v3.6M295.70 518.45v-3.6M314.84 726.6v3.6M314.84 518.45v-3.6M333.98 726.6v3.6M333.98 518.45v-3.6M353.11 726.6v3.6M353.11 518.45v-3.6M372.25 726.6v6.5M372.25 518.45v-6.5M391.39 726.6v3.6M391.39 518.45v-3.6M410.52 726.6v3.6M410.52 518.45v-3.6M429.66 726.6v3.6M429.66 518.45v-3.6M448.80 726.6v3.6M448.80 518.45v-3.6M467.93 726.6v6.5M467.93 518.45v-6.5M487.07 726.6v3.6M487.07 518.45v-3.6M506.21 726.6v3.6M506.21 518.45v-3.6M525.34 726.6v3.6M525.34 518.45v-3.6M544.48 726.6v3.6M544.48 518.45v-3.6M563.62 726.6v6.5M563.62 518.45v-6.5M582.75 726.6v3.6M582.75 518.45v-3.6M601.89 726.6v3.6M601.89 518.45v-3.6M621.03 726.6v3.6M621.03 518.45v-3.6M640.16 726.6v3.6M640.16 518.45v-3.6M659.30 726.6v6.5M659.30 518.45v-6.5M85.2 726.60h-3.6M659.3 726.60h3.6M85.2 715.04h-3.6M659.3 715.04h3.6M85.2 703.47h-6.5M659.3 703.47h6.5M85.2 691.91h-3.6M659.3 691.91h3.6M85.2 680.34h-3.6M659.3 680.34h3.6M85.2 668.78h-3.6M659.3 668.78h3.6M85.2 657.22h-6.5M659.3 657.22h6.5M85.2 645.65h-3.6M659.3 645.65h3.6M85.2 634.09h-3.6M659.3 634.09h3.6M85.2 622.53h-3.6M659.3 622.53h3.6M85.2 610.96h-6.5M659.3 610.96h6.5M85.2 599.40h-3.6M659.3 599.40h3.6M85.2 587.83h-3.6M659.3 587.83h3.6M85.2 576.27h-3.6M659.3 576.27h3.6M85.2 564.71h-6.5M659.3 564.71h6.5M85.2 553.14h-3.6M659.3 553.14h3.6M85.2 541.58h-3.6M659.3 541.58h3.6M85.2 530.01h-3.6M659.3 530.01h3.6M85.2 518.45h-6.5M659.3 518.45h6.5" stroke="#1a1a1a" stroke-width="1.25" fill="none"/>
<rect x="85.2" y="518.45" width="574.10" height="208.15" fill="none" stroke="#1a1a1a" stroke-width="1.3"/>
<text x="85.20" y="759.80" text-anchor="middle" style="font-family:'Liberation Sans',sans-serif;font-size:22px" fill="#1a1a1a" stroke="#1a1a1a" stroke-width="0.25">1520</text>
<text x="180.88" y="759.80" text-anchor="middle" style="font-family:'Liberation Sans',sans-serif;font-size:22px" fill="#1a1a1a" stroke="#1a1a1a" stroke-width="0.25">1530</text>
<text x="276.57" y="759.80" text-anchor="middle" style="font-family:'Liberation Sans',sans-serif;font-size:22px" fill="#1a1a1a" stroke="#1a1a1a" stroke-width="0.25">1540</text>
<text x="372.25" y="759.80" text-anchor="middle" style="font-family:'Liberation Sans',sans-serif;font-size:22px" fill="#1a1a1a" stroke="#1a1a1a" stroke-width="0.25">1550</text>
<text x="467.93" y="759.80" text-anchor="middle" style="font-family:'Liberation Sans',sans-serif;font-size:22px" fill="#1a1a1a" stroke="#1a1a1a" stroke-width="0.25">1560</text>
<text x="563.62" y="759.80" text-anchor="middle" style="font-family:'Liberation Sans',sans-serif;font-size:22px" fill="#1a1a1a" stroke="#1a1a1a" stroke-width="0.25">1570</text>
<text x="659.30" y="759.80" text-anchor="middle" style="font-family:'Liberation Sans',sans-serif;font-size:22px" fill="#1a1a1a" stroke="#1a1a1a" stroke-width="0.25">1580</text>
<text x="71.90" y="526.05" text-anchor="end" style="font-family:'Liberation Sans',sans-serif;font-size:22px" fill="#1a1a1a" stroke="#1a1a1a" stroke-width="0.25">0</text>
<text x="71.90" y="572.31" text-anchor="end" style="font-family:'Liberation Sans',sans-serif;font-size:22px" fill="#1a1a1a" stroke="#1a1a1a" stroke-width="0.25">-20</text>
<text x="71.90" y="618.56" text-anchor="end" style="font-family:'Liberation Sans',sans-serif;font-size:22px" fill="#1a1a1a" stroke="#1a1a1a" stroke-width="0.25">-40</text>
<text x="71.90" y="664.82" text-anchor="end" style="font-family:'Liberation Sans',sans-serif;font-size:22px" fill="#1a1a1a" stroke="#1a1a1a" stroke-width="0.25">-60</text>
<text x="71.90" y="711.07" text-anchor="end" style="font-family:'Liberation Sans',sans-serif;font-size:22px" fill="#1a1a1a" stroke="#1a1a1a" stroke-width="0.25">-80</text>
<text transform="translate(20.5,633) rotate(-90)" text-anchor="middle" fill="#1a1a1a" style="font-family:'Liberation Sans',sans-serif;font-size:20.9px"><tspan style="font-family:'Liberation Serif',serif;font-style:italic;font-size:21.5px">P</tspan><tspan dy="6" dx="0.3" style="font-size:13.5px" stroke="#1a1a1a" stroke-width="0.45">o</tspan><tspan dy="-6" dx="-0.2"> [dBm]</tspan></text>
<text x="333" y="786.6" style="font-family:'Liberation Sans',sans-serif;font-size:21.3px" fill="#1a1a1a"><tspan style="font-family:'Liberation Serif',serif;font-style:italic;font-size:23px">λ</tspan><tspan x="350.3">[nm]</tspan></text>
</svg>
</body></html>
